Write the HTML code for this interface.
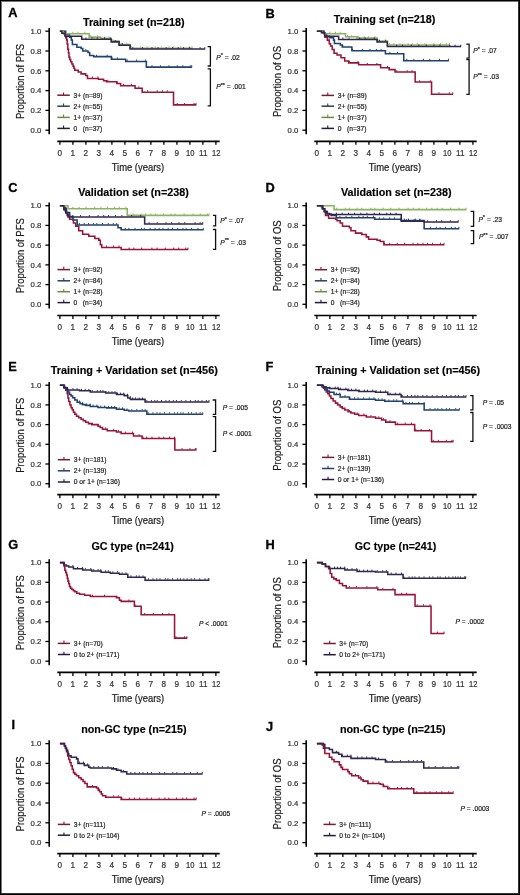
<!DOCTYPE html>
<html><head><meta charset="utf-8"><style>
html,body{margin:0;padding:0;background:#fff;}
body{width:520px;height:895px;overflow:hidden;position:relative;}
svg{display:block;font-family:"Liberation Sans", sans-serif;}
svg.main{filter:blur(0.3px);}
svg.bd{position:absolute;left:0;top:0;}
</style></head><body>
<svg class="main" width="520" height="895" viewBox="0 0 520 895">
<rect x="0" y="0" width="520" height="895" fill="#fff"/>
<text x="8.3" y="17.2" font-size="12.8" font-weight="bold" fill="#000" stroke="#000" stroke-width="0.3">A</text>
<text x="82.90" y="25.75" font-size="10.80" text-anchor="start" font-weight="bold" font-style="normal" fill="#000" textLength="101.6" lengthAdjust="spacingAndGlyphs" stroke="#000" stroke-width="0.15">Training set (n=218)</text>
<text transform="translate(23.60 81.50) rotate(-90)" x="0" y="0" font-size="10.3" text-anchor="middle" fill="#1a1a1a" stroke="#1a1a1a" stroke-width="0.2" textLength="75.0" lengthAdjust="spacingAndGlyphs">Proportion of PFS</text>
<line x1="49.20" y1="27.90" x2="49.20" y2="134.30" stroke="#000" stroke-width="1.6"/>
<line x1="45.40" y1="130.20" x2="49.20" y2="130.20" stroke="#000" stroke-width="1.3"/>
<text x="41.40" y="132.90" font-size="7.80" text-anchor="end" font-weight="normal" font-style="normal" fill="#333" textLength="10.8" lengthAdjust="spacingAndGlyphs" stroke="#333" stroke-width="0.2">0.0</text>
<line x1="45.40" y1="110.40" x2="49.20" y2="110.40" stroke="#000" stroke-width="1.3"/>
<text x="41.40" y="113.10" font-size="7.80" text-anchor="end" font-weight="normal" font-style="normal" fill="#333" textLength="10.8" lengthAdjust="spacingAndGlyphs" stroke="#333" stroke-width="0.2">0.2</text>
<line x1="45.40" y1="90.60" x2="49.20" y2="90.60" stroke="#000" stroke-width="1.3"/>
<text x="41.40" y="93.30" font-size="7.80" text-anchor="end" font-weight="normal" font-style="normal" fill="#333" textLength="10.8" lengthAdjust="spacingAndGlyphs" stroke="#333" stroke-width="0.2">0.4</text>
<line x1="45.40" y1="70.80" x2="49.20" y2="70.80" stroke="#000" stroke-width="1.3"/>
<text x="41.40" y="73.50" font-size="7.80" text-anchor="end" font-weight="normal" font-style="normal" fill="#333" textLength="10.8" lengthAdjust="spacingAndGlyphs" stroke="#333" stroke-width="0.2">0.6</text>
<line x1="45.40" y1="51.00" x2="49.20" y2="51.00" stroke="#000" stroke-width="1.3"/>
<text x="41.40" y="53.70" font-size="7.80" text-anchor="end" font-weight="normal" font-style="normal" fill="#333" textLength="10.8" lengthAdjust="spacingAndGlyphs" stroke="#333" stroke-width="0.2">0.8</text>
<line x1="45.40" y1="31.20" x2="49.20" y2="31.20" stroke="#000" stroke-width="1.3"/>
<text x="41.40" y="33.90" font-size="7.80" text-anchor="end" font-weight="normal" font-style="normal" fill="#333" textLength="10.8" lengthAdjust="spacingAndGlyphs" stroke="#333" stroke-width="0.2">1.0</text>
<line x1="57.30" y1="141.30" x2="219.70" y2="141.30" stroke="#000" stroke-width="1.7"/>
<line x1="59.90" y1="141.50" x2="59.90" y2="144.80" stroke="#000" stroke-width="1.3"/>
<text x="59.90" y="155.50" font-size="8.20" text-anchor="middle" font-weight="normal" font-style="normal" fill="#333" stroke="#333" stroke-width="0.2">0</text>
<line x1="72.90" y1="141.50" x2="72.90" y2="144.80" stroke="#000" stroke-width="1.3"/>
<text x="72.90" y="155.50" font-size="8.20" text-anchor="middle" font-weight="normal" font-style="normal" fill="#333" stroke="#333" stroke-width="0.2">1</text>
<line x1="85.90" y1="141.50" x2="85.90" y2="144.80" stroke="#000" stroke-width="1.3"/>
<text x="85.90" y="155.50" font-size="8.20" text-anchor="middle" font-weight="normal" font-style="normal" fill="#333" stroke="#333" stroke-width="0.2">2</text>
<line x1="98.90" y1="141.50" x2="98.90" y2="144.80" stroke="#000" stroke-width="1.3"/>
<text x="98.90" y="155.50" font-size="8.20" text-anchor="middle" font-weight="normal" font-style="normal" fill="#333" stroke="#333" stroke-width="0.2">3</text>
<line x1="111.90" y1="141.50" x2="111.90" y2="144.80" stroke="#000" stroke-width="1.3"/>
<text x="111.90" y="155.50" font-size="8.20" text-anchor="middle" font-weight="normal" font-style="normal" fill="#333" stroke="#333" stroke-width="0.2">4</text>
<line x1="124.90" y1="141.50" x2="124.90" y2="144.80" stroke="#000" stroke-width="1.3"/>
<text x="124.90" y="155.50" font-size="8.20" text-anchor="middle" font-weight="normal" font-style="normal" fill="#333" stroke="#333" stroke-width="0.2">5</text>
<line x1="137.90" y1="141.50" x2="137.90" y2="144.80" stroke="#000" stroke-width="1.3"/>
<text x="137.90" y="155.50" font-size="8.20" text-anchor="middle" font-weight="normal" font-style="normal" fill="#333" stroke="#333" stroke-width="0.2">6</text>
<line x1="150.90" y1="141.50" x2="150.90" y2="144.80" stroke="#000" stroke-width="1.3"/>
<text x="150.90" y="155.50" font-size="8.20" text-anchor="middle" font-weight="normal" font-style="normal" fill="#333" stroke="#333" stroke-width="0.2">7</text>
<line x1="163.90" y1="141.50" x2="163.90" y2="144.80" stroke="#000" stroke-width="1.3"/>
<text x="163.90" y="155.50" font-size="8.20" text-anchor="middle" font-weight="normal" font-style="normal" fill="#333" stroke="#333" stroke-width="0.2">8</text>
<line x1="176.90" y1="141.50" x2="176.90" y2="144.80" stroke="#000" stroke-width="1.3"/>
<text x="176.90" y="155.50" font-size="8.20" text-anchor="middle" font-weight="normal" font-style="normal" fill="#333" stroke="#333" stroke-width="0.2">9</text>
<line x1="189.90" y1="141.50" x2="189.90" y2="144.80" stroke="#000" stroke-width="1.3"/>
<text x="190.20" y="155.50" font-size="8.20" text-anchor="middle" font-weight="normal" font-style="normal" fill="#333" textLength="8.4" lengthAdjust="spacingAndGlyphs" stroke="#333" stroke-width="0.2">10</text>
<line x1="202.90" y1="141.50" x2="202.90" y2="144.80" stroke="#000" stroke-width="1.3"/>
<text x="203.20" y="155.50" font-size="8.20" text-anchor="middle" font-weight="normal" font-style="normal" fill="#333" textLength="8.4" lengthAdjust="spacingAndGlyphs" stroke="#333" stroke-width="0.2">11</text>
<line x1="215.90" y1="141.50" x2="215.90" y2="144.80" stroke="#000" stroke-width="1.3"/>
<text x="216.20" y="155.50" font-size="8.20" text-anchor="middle" font-weight="normal" font-style="normal" fill="#333" textLength="8.4" lengthAdjust="spacingAndGlyphs" stroke="#333" stroke-width="0.2">12</text>
<text x="137.90" y="170.50" font-size="10.30" text-anchor="middle" font-weight="normal" font-style="normal" fill="#1a1a1a" textLength="52.5" lengthAdjust="spacingAndGlyphs" stroke="#1a1a1a" stroke-width="0.2">Time (years)</text>
<line x1="57.30" y1="95.20" x2="69.80" y2="95.20" stroke="#7a1a36" stroke-width="1.5"/>
<line x1="63.55" y1="92.40" x2="63.55" y2="95.20" stroke="#7a1a36" stroke-width="1.1"/>
<text x="73.50" y="97.60" font-size="6.7" fill="#222" stroke="#222" stroke-width="0.2" xml:space="preserve">3+ (n=89)</text>
<line x1="57.30" y1="106.20" x2="69.80" y2="106.20" stroke="#2a4060" stroke-width="1.5"/>
<line x1="63.55" y1="103.40" x2="63.55" y2="106.20" stroke="#2a4060" stroke-width="1.1"/>
<text x="73.50" y="108.60" font-size="6.7" fill="#222" stroke="#222" stroke-width="0.2" xml:space="preserve">2+ (n=55)</text>
<line x1="57.30" y1="117.40" x2="69.80" y2="117.40" stroke="#6a8a44" stroke-width="1.5"/>
<line x1="63.55" y1="114.60" x2="63.55" y2="117.40" stroke="#6a8a44" stroke-width="1.1"/>
<text x="73.50" y="119.80" font-size="6.7" fill="#222" stroke="#222" stroke-width="0.2" xml:space="preserve">1+ (n=37)</text>
<line x1="57.30" y1="128.40" x2="69.80" y2="128.40" stroke="#251c3c" stroke-width="1.5"/>
<line x1="63.55" y1="125.60" x2="63.55" y2="128.40" stroke="#251c3c" stroke-width="1.1"/>
<text x="73.50" y="130.80" font-size="6.7" fill="#222" stroke="#222" stroke-width="0.2" xml:space="preserve">0   (n=37)</text>
<path d="M207.60 46.70 H210.40 V66.00 H207.60" fill="none" stroke="#111" stroke-width="1.3"/>
<path d="M207.60 68.80 H210.40 V105.80 H207.60" fill="none" stroke="#111" stroke-width="1.3"/>
<text x="216.20" y="59.60" font-size="6.7" fill="#1a1a1a" stroke="#1a1a1a" stroke-width="0.2" xml:space="preserve"><tspan font-style="italic">P</tspan><tspan font-size="5.6" dy="-2.4">*</tspan><tspan dy="2.4"> = .02</tspan></text>
<text x="216.20" y="89.00" font-size="6.7" fill="#1a1a1a" stroke="#1a1a1a" stroke-width="0.2" xml:space="preserve"><tspan font-style="italic">P</tspan><tspan font-size="5.6" dy="-2.4">**</tspan><tspan dy="2.4"> = .001</tspan></text>
<path d="M59.90 31.20 H63.80 V33.68 H64.84 V35.26 H65.75 V37.63 H66.66 V39.91 H67.18 V44.07 H67.83 V49.12 H68.48 V52.98 H69.00 V57.14 H69.78 V59.42 H70.69 V61.79 H71.86 V64.07 H73.03 V66.34 H73.94 V68.32 H74.72 V70.31 H78.23 V71.99 H81.09 V73.87 H85.64 V75.55 H87.46 V78.42 H98.38 V79.22 H103.58 V80.70 H106.44 V81.69 H116.71 V83.47 H120.61 V85.65 H135.04 V88.22 H142.19 V92.18 H173.52 V104.86 H196.40" fill="none" stroke="#9a1439" stroke-width="1.55" stroke-linejoin="miter"/>
<path d="M92.40 77.92 v-1.4 M97.92 77.92 v-1.4 M107.89 81.19 v-1.4 M117.33 82.97 v-1.4 M123.60 85.15 v-1.4 M131.38 85.15 v-1.4 M138.86 87.72 v-1.4 M147.61 91.68 v-1.4 M157.21 91.68 v-1.4 M162.47 91.68 v-1.4 M167.33 91.68 v-1.4 M177.23 104.36 v-1.4 M184.61 104.36 v-1.4 M194.04 104.36 v-1.4 M196.01 104.36 v-1.4" fill="none" stroke="#9a1439" stroke-width="1"/>
<path d="M59.90 31.20 H65.75 V34.67 H69.52 V37.14 H71.34 V39.91 H72.38 V44.56 H76.93 V47.34 H81.09 V48.53 H82.78 V51.00 H87.98 V52.48 H89.67 V55.45 H93.70 V56.64 H111.38 V59.32 H125.68 V61.40 H146.35 V67.14 H192.11" fill="none" stroke="#1f426f" stroke-width="1.55" stroke-linejoin="miter"/>
<path d="M85.90 50.50 v-1.4 M96.55 56.14 v-1.4 M107.14 56.14 v-1.4 M112.17 58.82 v-1.4 M117.38 58.82 v-1.4 M127.28 60.90 v-1.4 M136.55 60.90 v-1.4 M145.41 60.90 v-1.4 M152.01 66.64 v-1.4 M160.47 66.64 v-1.4 M168.94 66.64 v-1.4 M177.24 66.64 v-1.4 M182.91 66.64 v-1.4 M190.28 66.64 v-1.4 M191.72 66.64 v-1.4" fill="none" stroke="#1f426f" stroke-width="1"/>
<path d="M59.90 31.20 H63.15 V33.68 H89.15 V37.14 H100.72 V38.33 H111.25 V41.10 H119.05 V44.56 H130.10 V48.23 H192.50" fill="none" stroke="#8ab460" stroke-width="1.55" stroke-linejoin="miter"/>
<path d="M72.90 33.18 v-1.4 M78.04 33.18 v-1.4 M84.77 33.18 v-1.4 M90.59 36.64 v-1.4 M97.63 36.64 v-1.4 M104.79 37.83 v-1.4 M109.03 37.83 v-1.4 M112.99 40.60 v-1.4 M121.25 44.06 v-1.4 M126.50 44.06 v-1.4 M131.62 47.73 v-1.4 M140.69 47.73 v-1.4 M147.04 47.73 v-1.4 M155.29 47.73 v-1.4 M161.67 47.73 v-1.4 M168.89 47.73 v-1.4 M173.57 47.73 v-1.4 M180.77 47.73 v-1.4 M189.19 47.73 v-1.4 M192.11 47.73 v-1.4" fill="none" stroke="#8ab460" stroke-width="1"/>
<path d="M59.90 31.20 H61.85 V33.18 H65.10 V36.15 H81.74 V39.32 H111.25 V41.89 H119.05 V45.16 H130.10 V49.02 H205.24" fill="none" stroke="#302650" stroke-width="1.55" stroke-linejoin="miter"/>
<path d="M85.90 38.82 v-1.4 M92.05 38.82 v-1.4 M97.38 38.82 v-1.4 M104.53 38.82 v-1.4 M110.18 38.82 v-1.4 M115.27 41.39 v-1.4 M122.46 44.66 v-1.4 M132.86 48.52 v-1.4 M142.54 48.52 v-1.4 M151.99 48.52 v-1.4 M158.06 48.52 v-1.4 M166.09 48.52 v-1.4 M172.49 48.52 v-1.4 M178.25 48.52 v-1.4 M183.59 48.52 v-1.4 M189.61 48.52 v-1.4 M200.08 48.52 v-1.4 M204.85 48.52 v-1.4" fill="none" stroke="#302650" stroke-width="1"/>
<text x="265.4" y="18.0" font-size="12.8" font-weight="bold" fill="#000" stroke="#000" stroke-width="0.3">B</text>
<text x="333.80" y="22.75" font-size="10.80" text-anchor="start" font-weight="bold" font-style="normal" fill="#000" textLength="101.6" lengthAdjust="spacingAndGlyphs" stroke="#000" stroke-width="0.15">Training set (n=218)</text>
<text transform="translate(280.60 81.50) rotate(-90)" x="0" y="0" font-size="10.3" text-anchor="middle" fill="#1a1a1a" stroke="#1a1a1a" stroke-width="0.2" textLength="71.0" lengthAdjust="spacingAndGlyphs">Proportion of OS</text>
<line x1="306.20" y1="27.90" x2="306.20" y2="134.30" stroke="#000" stroke-width="1.6"/>
<line x1="302.40" y1="130.20" x2="306.20" y2="130.20" stroke="#000" stroke-width="1.3"/>
<text x="298.40" y="132.90" font-size="7.80" text-anchor="end" font-weight="normal" font-style="normal" fill="#333" textLength="10.8" lengthAdjust="spacingAndGlyphs" stroke="#333" stroke-width="0.2">0.0</text>
<line x1="302.40" y1="110.40" x2="306.20" y2="110.40" stroke="#000" stroke-width="1.3"/>
<text x="298.40" y="113.10" font-size="7.80" text-anchor="end" font-weight="normal" font-style="normal" fill="#333" textLength="10.8" lengthAdjust="spacingAndGlyphs" stroke="#333" stroke-width="0.2">0.2</text>
<line x1="302.40" y1="90.60" x2="306.20" y2="90.60" stroke="#000" stroke-width="1.3"/>
<text x="298.40" y="93.30" font-size="7.80" text-anchor="end" font-weight="normal" font-style="normal" fill="#333" textLength="10.8" lengthAdjust="spacingAndGlyphs" stroke="#333" stroke-width="0.2">0.4</text>
<line x1="302.40" y1="70.80" x2="306.20" y2="70.80" stroke="#000" stroke-width="1.3"/>
<text x="298.40" y="73.50" font-size="7.80" text-anchor="end" font-weight="normal" font-style="normal" fill="#333" textLength="10.8" lengthAdjust="spacingAndGlyphs" stroke="#333" stroke-width="0.2">0.6</text>
<line x1="302.40" y1="51.00" x2="306.20" y2="51.00" stroke="#000" stroke-width="1.3"/>
<text x="298.40" y="53.70" font-size="7.80" text-anchor="end" font-weight="normal" font-style="normal" fill="#333" textLength="10.8" lengthAdjust="spacingAndGlyphs" stroke="#333" stroke-width="0.2">0.8</text>
<line x1="302.40" y1="31.20" x2="306.20" y2="31.20" stroke="#000" stroke-width="1.3"/>
<text x="298.40" y="33.90" font-size="7.80" text-anchor="end" font-weight="normal" font-style="normal" fill="#333" textLength="10.8" lengthAdjust="spacingAndGlyphs" stroke="#333" stroke-width="0.2">1.0</text>
<line x1="314.30" y1="141.30" x2="476.70" y2="141.30" stroke="#000" stroke-width="1.7"/>
<line x1="316.90" y1="141.50" x2="316.90" y2="144.80" stroke="#000" stroke-width="1.3"/>
<text x="316.90" y="155.50" font-size="8.20" text-anchor="middle" font-weight="normal" font-style="normal" fill="#333" stroke="#333" stroke-width="0.2">0</text>
<line x1="329.90" y1="141.50" x2="329.90" y2="144.80" stroke="#000" stroke-width="1.3"/>
<text x="329.90" y="155.50" font-size="8.20" text-anchor="middle" font-weight="normal" font-style="normal" fill="#333" stroke="#333" stroke-width="0.2">1</text>
<line x1="342.90" y1="141.50" x2="342.90" y2="144.80" stroke="#000" stroke-width="1.3"/>
<text x="342.90" y="155.50" font-size="8.20" text-anchor="middle" font-weight="normal" font-style="normal" fill="#333" stroke="#333" stroke-width="0.2">2</text>
<line x1="355.90" y1="141.50" x2="355.90" y2="144.80" stroke="#000" stroke-width="1.3"/>
<text x="355.90" y="155.50" font-size="8.20" text-anchor="middle" font-weight="normal" font-style="normal" fill="#333" stroke="#333" stroke-width="0.2">3</text>
<line x1="368.90" y1="141.50" x2="368.90" y2="144.80" stroke="#000" stroke-width="1.3"/>
<text x="368.90" y="155.50" font-size="8.20" text-anchor="middle" font-weight="normal" font-style="normal" fill="#333" stroke="#333" stroke-width="0.2">4</text>
<line x1="381.90" y1="141.50" x2="381.90" y2="144.80" stroke="#000" stroke-width="1.3"/>
<text x="381.90" y="155.50" font-size="8.20" text-anchor="middle" font-weight="normal" font-style="normal" fill="#333" stroke="#333" stroke-width="0.2">5</text>
<line x1="394.90" y1="141.50" x2="394.90" y2="144.80" stroke="#000" stroke-width="1.3"/>
<text x="394.90" y="155.50" font-size="8.20" text-anchor="middle" font-weight="normal" font-style="normal" fill="#333" stroke="#333" stroke-width="0.2">6</text>
<line x1="407.90" y1="141.50" x2="407.90" y2="144.80" stroke="#000" stroke-width="1.3"/>
<text x="407.90" y="155.50" font-size="8.20" text-anchor="middle" font-weight="normal" font-style="normal" fill="#333" stroke="#333" stroke-width="0.2">7</text>
<line x1="420.90" y1="141.50" x2="420.90" y2="144.80" stroke="#000" stroke-width="1.3"/>
<text x="420.90" y="155.50" font-size="8.20" text-anchor="middle" font-weight="normal" font-style="normal" fill="#333" stroke="#333" stroke-width="0.2">8</text>
<line x1="433.90" y1="141.50" x2="433.90" y2="144.80" stroke="#000" stroke-width="1.3"/>
<text x="433.90" y="155.50" font-size="8.20" text-anchor="middle" font-weight="normal" font-style="normal" fill="#333" stroke="#333" stroke-width="0.2">9</text>
<line x1="446.90" y1="141.50" x2="446.90" y2="144.80" stroke="#000" stroke-width="1.3"/>
<text x="447.20" y="155.50" font-size="8.20" text-anchor="middle" font-weight="normal" font-style="normal" fill="#333" textLength="8.4" lengthAdjust="spacingAndGlyphs" stroke="#333" stroke-width="0.2">10</text>
<line x1="459.90" y1="141.50" x2="459.90" y2="144.80" stroke="#000" stroke-width="1.3"/>
<text x="460.20" y="155.50" font-size="8.20" text-anchor="middle" font-weight="normal" font-style="normal" fill="#333" textLength="8.4" lengthAdjust="spacingAndGlyphs" stroke="#333" stroke-width="0.2">11</text>
<line x1="472.90" y1="141.50" x2="472.90" y2="144.80" stroke="#000" stroke-width="1.3"/>
<text x="473.20" y="155.50" font-size="8.20" text-anchor="middle" font-weight="normal" font-style="normal" fill="#333" textLength="8.4" lengthAdjust="spacingAndGlyphs" stroke="#333" stroke-width="0.2">12</text>
<text x="394.90" y="170.50" font-size="10.30" text-anchor="middle" font-weight="normal" font-style="normal" fill="#1a1a1a" textLength="52.5" lengthAdjust="spacingAndGlyphs" stroke="#1a1a1a" stroke-width="0.2">Time (years)</text>
<line x1="321.50" y1="95.40" x2="334.00" y2="95.40" stroke="#7a1a36" stroke-width="1.5"/>
<line x1="327.75" y1="92.60" x2="327.75" y2="95.40" stroke="#7a1a36" stroke-width="1.1"/>
<text x="337.70" y="97.80" font-size="6.7" fill="#222" stroke="#222" stroke-width="0.2" xml:space="preserve">3+ (n=89)</text>
<line x1="321.50" y1="106.20" x2="334.00" y2="106.20" stroke="#2a4060" stroke-width="1.5"/>
<line x1="327.75" y1="103.40" x2="327.75" y2="106.20" stroke="#2a4060" stroke-width="1.1"/>
<text x="337.70" y="108.60" font-size="6.7" fill="#222" stroke="#222" stroke-width="0.2" xml:space="preserve">2+ (n=55)</text>
<line x1="321.50" y1="117.40" x2="334.00" y2="117.40" stroke="#6a8a44" stroke-width="1.5"/>
<line x1="327.75" y1="114.60" x2="327.75" y2="117.40" stroke="#6a8a44" stroke-width="1.1"/>
<text x="337.70" y="119.80" font-size="6.7" fill="#222" stroke="#222" stroke-width="0.2" xml:space="preserve">1+ (n=37)</text>
<line x1="321.50" y1="128.40" x2="334.00" y2="128.40" stroke="#251c3c" stroke-width="1.5"/>
<line x1="327.75" y1="125.60" x2="327.75" y2="128.40" stroke="#251c3c" stroke-width="1.1"/>
<text x="337.70" y="130.80" font-size="6.7" fill="#222" stroke="#222" stroke-width="0.2" xml:space="preserve">0   (n=37)</text>
<path d="M466.30 44.20 H469.10 V58.10 H466.30" fill="none" stroke="#111" stroke-width="1.3"/>
<path d="M466.30 59.60 H469.10 V94.40 H466.30" fill="none" stroke="#111" stroke-width="1.3"/>
<text x="473.20" y="53.20" font-size="6.7" fill="#1a1a1a" stroke="#1a1a1a" stroke-width="0.2" xml:space="preserve"><tspan font-style="italic">P</tspan><tspan font-size="5.6" dy="-2.4">*</tspan><tspan dy="2.4"> = .07</tspan></text>
<text x="473.20" y="79.20" font-size="6.7" fill="#1a1a1a" stroke="#1a1a1a" stroke-width="0.2" xml:space="preserve"><tspan font-style="italic">P</tspan><tspan font-size="5.6" dy="-2.4">**</tspan><tspan dy="2.4"> = .03</tspan></text>
<path d="M316.90 31.20 H323.40 V33.18 H324.96 V37.14 H327.30 V40.11 H329.25 V43.67 H330.55 V46.05 H332.24 V49.42 H334.06 V53.18 H337.05 V54.96 H340.95 V57.83 H344.72 V60.90 H348.62 V62.88 H358.63 V64.76 H380.60 V67.73 H389.18 V69.61 H395.03 V72.09 H415.18 V82.09 H431.56 V94.16 H453.14" fill="none" stroke="#9a1439" stroke-width="1.55" stroke-linejoin="miter"/>
<path d="M349.40 62.38 v-1.4 M357.97 62.38 v-1.4 M367.28 64.26 v-1.4 M376.92 64.26 v-1.4 M387.48 67.23 v-1.4 M396.78 71.59 v-1.4 M407.21 71.59 v-1.4 M412.07 71.59 v-1.4 M419.66 81.59 v-1.4 M430.22 81.59 v-1.4 M438.95 93.66 v-1.4 M449.26 93.66 v-1.4 M452.75 93.66 v-1.4" fill="none" stroke="#9a1439" stroke-width="1"/>
<path d="M316.90 31.20 H324.05 V33.68 H326.65 V36.15 H329.25 V37.63 H333.54 V40.11 H334.45 V43.48 H340.30 V44.96 H342.25 V46.94 H351.87 V50.80 H385.41 V53.77 H403.74 V60.70 H448.85" fill="none" stroke="#1f426f" stroke-width="1.55" stroke-linejoin="miter"/>
<path d="M342.90 46.44 v-1.4 M352.53 50.30 v-1.4 M362.34 50.30 v-1.4 M370.05 50.30 v-1.4 M376.36 50.30 v-1.4 M381.04 50.30 v-1.4 M389.86 53.27 v-1.4 M397.47 53.27 v-1.4 M406.89 60.20 v-1.4 M413.90 60.20 v-1.4 M423.39 60.20 v-1.4 M429.77 60.20 v-1.4 M439.45 60.20 v-1.4 M448.46 60.20 v-1.4" fill="none" stroke="#1f426f" stroke-width="1"/>
<path d="M316.90 31.20 H322.10 V32.69 H324.70 V33.68 H345.50 V36.84 H357.07 V38.13 H377.09 V41.10 H387.36 V45.06 H449.76" fill="none" stroke="#8ab460" stroke-width="1.55" stroke-linejoin="miter"/>
<path d="M329.90 33.18 v-1.4 M335.48 33.18 v-1.4 M340.17 33.18 v-1.4 M347.45 36.34 v-1.4 M351.73 36.34 v-1.4 M358.42 37.63 v-1.4 M364.22 37.63 v-1.4 M368.42 37.63 v-1.4 M374.96 37.63 v-1.4 M379.05 40.60 v-1.4 M385.21 40.60 v-1.4 M389.47 44.56 v-1.4 M393.84 44.56 v-1.4 M399.95 44.56 v-1.4 M408.15 44.56 v-1.4 M412.69 44.56 v-1.4 M417.75 44.56 v-1.4 M424.92 44.56 v-1.4 M433.75 44.56 v-1.4 M440.65 44.56 v-1.4 M446.61 44.56 v-1.4 M449.37 44.56 v-1.4" fill="none" stroke="#8ab460" stroke-width="1"/>
<path d="M316.90 31.20 H321.45 V32.69 H324.70 V36.15 H338.61 V39.42 H377.09 V41.99 H387.36 V46.55 H461.20" fill="none" stroke="#302650" stroke-width="1.55" stroke-linejoin="miter"/>
<path d="M342.90 38.92 v-1.4 M348.99 38.92 v-1.4 M359.68 38.92 v-1.4 M365.15 38.92 v-1.4 M374.23 38.92 v-1.4 M379.44 41.49 v-1.4 M385.66 41.49 v-1.4 M396.58 46.05 v-1.4 M402.56 46.05 v-1.4 M411.25 46.05 v-1.4 M418.79 46.05 v-1.4 M426.30 46.05 v-1.4 M434.07 46.05 v-1.4 M439.95 46.05 v-1.4 M449.81 46.05 v-1.4 M455.05 46.05 v-1.4 M460.81 46.05 v-1.4" fill="none" stroke="#302650" stroke-width="1"/>
<text x="8.3" y="191.7" font-size="12.8" font-weight="bold" fill="#000" stroke="#000" stroke-width="0.3">C</text>
<text x="78.20" y="196.45" font-size="10.80" text-anchor="start" font-weight="bold" font-style="normal" fill="#000" textLength="110.6" lengthAdjust="spacingAndGlyphs" stroke="#000" stroke-width="0.15">Validation set (n=238)</text>
<text transform="translate(23.60 255.80) rotate(-90)" x="0" y="0" font-size="10.3" text-anchor="middle" fill="#1a1a1a" stroke="#1a1a1a" stroke-width="0.2" textLength="75.0" lengthAdjust="spacingAndGlyphs">Proportion of PFS</text>
<line x1="49.20" y1="202.40" x2="49.20" y2="308.40" stroke="#000" stroke-width="1.6"/>
<line x1="45.40" y1="304.30" x2="49.20" y2="304.30" stroke="#000" stroke-width="1.3"/>
<text x="41.40" y="307.00" font-size="7.80" text-anchor="end" font-weight="normal" font-style="normal" fill="#333" textLength="10.8" lengthAdjust="spacingAndGlyphs" stroke="#333" stroke-width="0.2">0.0</text>
<line x1="45.40" y1="284.58" x2="49.20" y2="284.58" stroke="#000" stroke-width="1.3"/>
<text x="41.40" y="287.28" font-size="7.80" text-anchor="end" font-weight="normal" font-style="normal" fill="#333" textLength="10.8" lengthAdjust="spacingAndGlyphs" stroke="#333" stroke-width="0.2">0.2</text>
<line x1="45.40" y1="264.86" x2="49.20" y2="264.86" stroke="#000" stroke-width="1.3"/>
<text x="41.40" y="267.56" font-size="7.80" text-anchor="end" font-weight="normal" font-style="normal" fill="#333" textLength="10.8" lengthAdjust="spacingAndGlyphs" stroke="#333" stroke-width="0.2">0.4</text>
<line x1="45.40" y1="245.14" x2="49.20" y2="245.14" stroke="#000" stroke-width="1.3"/>
<text x="41.40" y="247.84" font-size="7.80" text-anchor="end" font-weight="normal" font-style="normal" fill="#333" textLength="10.8" lengthAdjust="spacingAndGlyphs" stroke="#333" stroke-width="0.2">0.6</text>
<line x1="45.40" y1="225.42" x2="49.20" y2="225.42" stroke="#000" stroke-width="1.3"/>
<text x="41.40" y="228.12" font-size="7.80" text-anchor="end" font-weight="normal" font-style="normal" fill="#333" textLength="10.8" lengthAdjust="spacingAndGlyphs" stroke="#333" stroke-width="0.2">0.8</text>
<line x1="45.40" y1="205.70" x2="49.20" y2="205.70" stroke="#000" stroke-width="1.3"/>
<text x="41.40" y="208.40" font-size="7.80" text-anchor="end" font-weight="normal" font-style="normal" fill="#333" textLength="10.8" lengthAdjust="spacingAndGlyphs" stroke="#333" stroke-width="0.2">1.0</text>
<line x1="57.30" y1="315.50" x2="219.70" y2="315.50" stroke="#000" stroke-width="1.7"/>
<line x1="59.90" y1="315.70" x2="59.90" y2="319.00" stroke="#000" stroke-width="1.3"/>
<text x="59.90" y="329.70" font-size="8.20" text-anchor="middle" font-weight="normal" font-style="normal" fill="#333" stroke="#333" stroke-width="0.2">0</text>
<line x1="72.90" y1="315.70" x2="72.90" y2="319.00" stroke="#000" stroke-width="1.3"/>
<text x="72.90" y="329.70" font-size="8.20" text-anchor="middle" font-weight="normal" font-style="normal" fill="#333" stroke="#333" stroke-width="0.2">1</text>
<line x1="85.90" y1="315.70" x2="85.90" y2="319.00" stroke="#000" stroke-width="1.3"/>
<text x="85.90" y="329.70" font-size="8.20" text-anchor="middle" font-weight="normal" font-style="normal" fill="#333" stroke="#333" stroke-width="0.2">2</text>
<line x1="98.90" y1="315.70" x2="98.90" y2="319.00" stroke="#000" stroke-width="1.3"/>
<text x="98.90" y="329.70" font-size="8.20" text-anchor="middle" font-weight="normal" font-style="normal" fill="#333" stroke="#333" stroke-width="0.2">3</text>
<line x1="111.90" y1="315.70" x2="111.90" y2="319.00" stroke="#000" stroke-width="1.3"/>
<text x="111.90" y="329.70" font-size="8.20" text-anchor="middle" font-weight="normal" font-style="normal" fill="#333" stroke="#333" stroke-width="0.2">4</text>
<line x1="124.90" y1="315.70" x2="124.90" y2="319.00" stroke="#000" stroke-width="1.3"/>
<text x="124.90" y="329.70" font-size="8.20" text-anchor="middle" font-weight="normal" font-style="normal" fill="#333" stroke="#333" stroke-width="0.2">5</text>
<line x1="137.90" y1="315.70" x2="137.90" y2="319.00" stroke="#000" stroke-width="1.3"/>
<text x="137.90" y="329.70" font-size="8.20" text-anchor="middle" font-weight="normal" font-style="normal" fill="#333" stroke="#333" stroke-width="0.2">6</text>
<line x1="150.90" y1="315.70" x2="150.90" y2="319.00" stroke="#000" stroke-width="1.3"/>
<text x="150.90" y="329.70" font-size="8.20" text-anchor="middle" font-weight="normal" font-style="normal" fill="#333" stroke="#333" stroke-width="0.2">7</text>
<line x1="163.90" y1="315.70" x2="163.90" y2="319.00" stroke="#000" stroke-width="1.3"/>
<text x="163.90" y="329.70" font-size="8.20" text-anchor="middle" font-weight="normal" font-style="normal" fill="#333" stroke="#333" stroke-width="0.2">8</text>
<line x1="176.90" y1="315.70" x2="176.90" y2="319.00" stroke="#000" stroke-width="1.3"/>
<text x="176.90" y="329.70" font-size="8.20" text-anchor="middle" font-weight="normal" font-style="normal" fill="#333" stroke="#333" stroke-width="0.2">9</text>
<line x1="189.90" y1="315.70" x2="189.90" y2="319.00" stroke="#000" stroke-width="1.3"/>
<text x="190.20" y="329.70" font-size="8.20" text-anchor="middle" font-weight="normal" font-style="normal" fill="#333" textLength="8.4" lengthAdjust="spacingAndGlyphs" stroke="#333" stroke-width="0.2">10</text>
<line x1="202.90" y1="315.70" x2="202.90" y2="319.00" stroke="#000" stroke-width="1.3"/>
<text x="203.20" y="329.70" font-size="8.20" text-anchor="middle" font-weight="normal" font-style="normal" fill="#333" textLength="8.4" lengthAdjust="spacingAndGlyphs" stroke="#333" stroke-width="0.2">11</text>
<line x1="215.90" y1="315.70" x2="215.90" y2="319.00" stroke="#000" stroke-width="1.3"/>
<text x="216.20" y="329.70" font-size="8.20" text-anchor="middle" font-weight="normal" font-style="normal" fill="#333" textLength="8.4" lengthAdjust="spacingAndGlyphs" stroke="#333" stroke-width="0.2">12</text>
<text x="137.90" y="344.70" font-size="10.30" text-anchor="middle" font-weight="normal" font-style="normal" fill="#1a1a1a" textLength="52.5" lengthAdjust="spacingAndGlyphs" stroke="#1a1a1a" stroke-width="0.2">Time (years)</text>
<line x1="57.50" y1="269.60" x2="70.00" y2="269.60" stroke="#7a1a36" stroke-width="1.5"/>
<line x1="63.75" y1="266.80" x2="63.75" y2="269.60" stroke="#7a1a36" stroke-width="1.1"/>
<text x="73.50" y="272.00" font-size="6.7" fill="#222" stroke="#222" stroke-width="0.2" xml:space="preserve">3+ (n=92)</text>
<line x1="57.50" y1="280.80" x2="70.00" y2="280.80" stroke="#2a4060" stroke-width="1.5"/>
<line x1="63.75" y1="278.00" x2="63.75" y2="280.80" stroke="#2a4060" stroke-width="1.1"/>
<text x="73.50" y="283.20" font-size="6.7" fill="#222" stroke="#222" stroke-width="0.2" xml:space="preserve">2+ (n=84)</text>
<line x1="57.50" y1="291.70" x2="70.00" y2="291.70" stroke="#6a8a44" stroke-width="1.5"/>
<line x1="63.75" y1="288.90" x2="63.75" y2="291.70" stroke="#6a8a44" stroke-width="1.1"/>
<text x="73.50" y="294.10" font-size="6.7" fill="#222" stroke="#222" stroke-width="0.2" xml:space="preserve">1+ (n=28)</text>
<line x1="57.50" y1="302.60" x2="70.00" y2="302.60" stroke="#251c3c" stroke-width="1.5"/>
<line x1="63.75" y1="299.80" x2="63.75" y2="302.60" stroke="#251c3c" stroke-width="1.1"/>
<text x="73.50" y="305.00" font-size="6.7" fill="#222" stroke="#222" stroke-width="0.2" xml:space="preserve">0   (n=34)</text>
<path d="M212.90 215.40 H215.60 V225.80 H212.90" fill="none" stroke="#111" stroke-width="1.3"/>
<path d="M212.90 229.50 H215.60 V249.40 H212.90" fill="none" stroke="#111" stroke-width="1.3"/>
<text x="220.20" y="222.90" font-size="6.7" fill="#1a1a1a" stroke="#1a1a1a" stroke-width="0.2" xml:space="preserve"><tspan font-style="italic">P</tspan><tspan font-size="5.6" dy="-2.4">*</tspan><tspan dy="2.4"> = .07</tspan></text>
<text x="220.20" y="244.50" font-size="6.7" fill="#1a1a1a" stroke="#1a1a1a" stroke-width="0.2" xml:space="preserve"><tspan font-style="italic">P</tspan><tspan font-size="5.6" dy="-2.4">**</tspan><tspan dy="2.4"> = .03</tspan></text>
<path d="M59.90 205.70 H63.80 V207.18 H65.10 V210.63 H66.40 V213.59 H67.18 V215.36 H69.52 V219.21 H73.42 V223.05 H75.76 V226.21 H78.75 V230.84 H82.65 V234.20 H88.76 V236.27 H94.87 V238.53 H98.77 V240.31 H100.33 V244.65 H101.76 V247.41 H121.13 V249.48 H188.34" fill="none" stroke="#9a1439" stroke-width="1.55" stroke-linejoin="miter"/>
<path d="M98.90 239.81 v-1.4 M106.47 246.91 v-1.4 M113.48 246.91 v-1.4 M119.02 246.91 v-1.4 M129.11 248.98 v-1.4 M133.83 248.98 v-1.4 M141.65 248.98 v-1.4 M151.93 248.98 v-1.4 M157.12 248.98 v-1.4 M165.26 248.98 v-1.4 M173.78 248.98 v-1.4 M178.72 248.98 v-1.4 M185.76 248.98 v-1.4 M187.95 248.98 v-1.4" fill="none" stroke="#9a1439" stroke-width="1"/>
<path d="M59.90 205.70 H63.80 V208.16 H66.40 V212.60 H69.65 V216.55 H72.90 V220.00 H77.19 V224.93 H118.01 V227.69 H121.13 V229.76 H203.68" fill="none" stroke="#1f426f" stroke-width="1.55" stroke-linejoin="miter"/>
<path d="M79.40 224.43 v-1.4 M84.21 224.43 v-1.4 M88.50 224.43 v-1.4 M93.34 224.43 v-1.4 M96.82 224.43 v-1.4 M102.51 224.43 v-1.4 M108.23 224.43 v-1.4 M113.34 224.43 v-1.4 M116.66 224.43 v-1.4 M121.28 229.26 v-1.4 M125.20 229.26 v-1.4 M128.84 229.26 v-1.4 M135.04 229.26 v-1.4 M141.40 229.26 v-1.4 M144.29 229.26 v-1.4 M150.15 229.26 v-1.4 M155.08 229.26 v-1.4 M159.20 229.26 v-1.4 M162.96 229.26 v-1.4 M168.15 229.26 v-1.4 M172.54 229.26 v-1.4 M177.77 229.26 v-1.4 M182.91 229.26 v-1.4 M186.12 229.26 v-1.4 M191.64 229.26 v-1.4 M197.95 229.26 v-1.4 M203.29 229.26 v-1.4" fill="none" stroke="#1f426f" stroke-width="1"/>
<path d="M59.90 205.70 H67.96 V208.66 H127.24 V215.36 H209.40" fill="none" stroke="#8ab460" stroke-width="1.55" stroke-linejoin="miter"/>
<path d="M72.90 208.16 v-1.4 M79.15 208.16 v-1.4 M85.96 208.16 v-1.4 M94.67 208.16 v-1.4 M100.99 208.16 v-1.4 M107.53 208.16 v-1.4 M114.49 208.16 v-1.4 M119.35 208.16 v-1.4 M125.91 208.16 v-1.4 M133.08 214.86 v-1.4 M141.11 214.86 v-1.4 M145.50 214.86 v-1.4 M150.97 214.86 v-1.4 M155.35 214.86 v-1.4 M163.46 214.86 v-1.4 M170.96 214.86 v-1.4 M175.08 214.86 v-1.4 M184.09 214.86 v-1.4 M193.00 214.86 v-1.4 M200.30 214.86 v-1.4 M207.40 214.86 v-1.4 M209.01 214.86 v-1.4" fill="none" stroke="#8ab460" stroke-width="1"/>
<path d="M59.90 205.70 H63.80 V209.64 H65.75 V212.60 H67.96 V216.94 H144.66 V224.04 H203.16" fill="none" stroke="#302650" stroke-width="1.55" stroke-linejoin="miter"/>
<path d="M72.90 216.44 v-1.4 M80.54 216.44 v-1.4 M89.32 216.44 v-1.4 M98.16 216.44 v-1.4 M103.73 216.44 v-1.4 M108.48 216.44 v-1.4 M115.50 216.44 v-1.4 M121.89 216.44 v-1.4 M131.63 216.44 v-1.4 M140.61 216.44 v-1.4 M149.05 223.54 v-1.4 M157.21 223.54 v-1.4 M166.02 223.54 v-1.4 M171.60 223.54 v-1.4 M179.03 223.54 v-1.4 M184.72 223.54 v-1.4 M195.06 223.54 v-1.4 M200.10 223.54 v-1.4 M202.77 223.54 v-1.4" fill="none" stroke="#302650" stroke-width="1"/>
<text x="265.4" y="191.7" font-size="12.8" font-weight="bold" fill="#000" stroke="#000" stroke-width="0.3">D</text>
<text x="340.90" y="196.45" font-size="10.80" text-anchor="start" font-weight="bold" font-style="normal" fill="#000" textLength="110.6" lengthAdjust="spacingAndGlyphs" stroke="#000" stroke-width="0.15">Validation set (n=238)</text>
<text transform="translate(280.60 255.80) rotate(-90)" x="0" y="0" font-size="10.3" text-anchor="middle" fill="#1a1a1a" stroke="#1a1a1a" stroke-width="0.2" textLength="71.0" lengthAdjust="spacingAndGlyphs">Proportion of OS</text>
<line x1="306.20" y1="202.40" x2="306.20" y2="308.40" stroke="#000" stroke-width="1.6"/>
<line x1="302.40" y1="304.30" x2="306.20" y2="304.30" stroke="#000" stroke-width="1.3"/>
<text x="298.40" y="307.00" font-size="7.80" text-anchor="end" font-weight="normal" font-style="normal" fill="#333" textLength="10.8" lengthAdjust="spacingAndGlyphs" stroke="#333" stroke-width="0.2">0.0</text>
<line x1="302.40" y1="284.58" x2="306.20" y2="284.58" stroke="#000" stroke-width="1.3"/>
<text x="298.40" y="287.28" font-size="7.80" text-anchor="end" font-weight="normal" font-style="normal" fill="#333" textLength="10.8" lengthAdjust="spacingAndGlyphs" stroke="#333" stroke-width="0.2">0.2</text>
<line x1="302.40" y1="264.86" x2="306.20" y2="264.86" stroke="#000" stroke-width="1.3"/>
<text x="298.40" y="267.56" font-size="7.80" text-anchor="end" font-weight="normal" font-style="normal" fill="#333" textLength="10.8" lengthAdjust="spacingAndGlyphs" stroke="#333" stroke-width="0.2">0.4</text>
<line x1="302.40" y1="245.14" x2="306.20" y2="245.14" stroke="#000" stroke-width="1.3"/>
<text x="298.40" y="247.84" font-size="7.80" text-anchor="end" font-weight="normal" font-style="normal" fill="#333" textLength="10.8" lengthAdjust="spacingAndGlyphs" stroke="#333" stroke-width="0.2">0.6</text>
<line x1="302.40" y1="225.42" x2="306.20" y2="225.42" stroke="#000" stroke-width="1.3"/>
<text x="298.40" y="228.12" font-size="7.80" text-anchor="end" font-weight="normal" font-style="normal" fill="#333" textLength="10.8" lengthAdjust="spacingAndGlyphs" stroke="#333" stroke-width="0.2">0.8</text>
<line x1="302.40" y1="205.70" x2="306.20" y2="205.70" stroke="#000" stroke-width="1.3"/>
<text x="298.40" y="208.40" font-size="7.80" text-anchor="end" font-weight="normal" font-style="normal" fill="#333" textLength="10.8" lengthAdjust="spacingAndGlyphs" stroke="#333" stroke-width="0.2">1.0</text>
<line x1="314.30" y1="315.50" x2="476.70" y2="315.50" stroke="#000" stroke-width="1.7"/>
<line x1="316.90" y1="315.70" x2="316.90" y2="319.00" stroke="#000" stroke-width="1.3"/>
<text x="316.90" y="329.70" font-size="8.20" text-anchor="middle" font-weight="normal" font-style="normal" fill="#333" stroke="#333" stroke-width="0.2">0</text>
<line x1="329.90" y1="315.70" x2="329.90" y2="319.00" stroke="#000" stroke-width="1.3"/>
<text x="329.90" y="329.70" font-size="8.20" text-anchor="middle" font-weight="normal" font-style="normal" fill="#333" stroke="#333" stroke-width="0.2">1</text>
<line x1="342.90" y1="315.70" x2="342.90" y2="319.00" stroke="#000" stroke-width="1.3"/>
<text x="342.90" y="329.70" font-size="8.20" text-anchor="middle" font-weight="normal" font-style="normal" fill="#333" stroke="#333" stroke-width="0.2">2</text>
<line x1="355.90" y1="315.70" x2="355.90" y2="319.00" stroke="#000" stroke-width="1.3"/>
<text x="355.90" y="329.70" font-size="8.20" text-anchor="middle" font-weight="normal" font-style="normal" fill="#333" stroke="#333" stroke-width="0.2">3</text>
<line x1="368.90" y1="315.70" x2="368.90" y2="319.00" stroke="#000" stroke-width="1.3"/>
<text x="368.90" y="329.70" font-size="8.20" text-anchor="middle" font-weight="normal" font-style="normal" fill="#333" stroke="#333" stroke-width="0.2">4</text>
<line x1="381.90" y1="315.70" x2="381.90" y2="319.00" stroke="#000" stroke-width="1.3"/>
<text x="381.90" y="329.70" font-size="8.20" text-anchor="middle" font-weight="normal" font-style="normal" fill="#333" stroke="#333" stroke-width="0.2">5</text>
<line x1="394.90" y1="315.70" x2="394.90" y2="319.00" stroke="#000" stroke-width="1.3"/>
<text x="394.90" y="329.70" font-size="8.20" text-anchor="middle" font-weight="normal" font-style="normal" fill="#333" stroke="#333" stroke-width="0.2">6</text>
<line x1="407.90" y1="315.70" x2="407.90" y2="319.00" stroke="#000" stroke-width="1.3"/>
<text x="407.90" y="329.70" font-size="8.20" text-anchor="middle" font-weight="normal" font-style="normal" fill="#333" stroke="#333" stroke-width="0.2">7</text>
<line x1="420.90" y1="315.70" x2="420.90" y2="319.00" stroke="#000" stroke-width="1.3"/>
<text x="420.90" y="329.70" font-size="8.20" text-anchor="middle" font-weight="normal" font-style="normal" fill="#333" stroke="#333" stroke-width="0.2">8</text>
<line x1="433.90" y1="315.70" x2="433.90" y2="319.00" stroke="#000" stroke-width="1.3"/>
<text x="433.90" y="329.70" font-size="8.20" text-anchor="middle" font-weight="normal" font-style="normal" fill="#333" stroke="#333" stroke-width="0.2">9</text>
<line x1="446.90" y1="315.70" x2="446.90" y2="319.00" stroke="#000" stroke-width="1.3"/>
<text x="447.20" y="329.70" font-size="8.20" text-anchor="middle" font-weight="normal" font-style="normal" fill="#333" textLength="8.4" lengthAdjust="spacingAndGlyphs" stroke="#333" stroke-width="0.2">10</text>
<line x1="459.90" y1="315.70" x2="459.90" y2="319.00" stroke="#000" stroke-width="1.3"/>
<text x="460.20" y="329.70" font-size="8.20" text-anchor="middle" font-weight="normal" font-style="normal" fill="#333" textLength="8.4" lengthAdjust="spacingAndGlyphs" stroke="#333" stroke-width="0.2">11</text>
<line x1="472.90" y1="315.70" x2="472.90" y2="319.00" stroke="#000" stroke-width="1.3"/>
<text x="473.20" y="329.70" font-size="8.20" text-anchor="middle" font-weight="normal" font-style="normal" fill="#333" textLength="8.4" lengthAdjust="spacingAndGlyphs" stroke="#333" stroke-width="0.2">12</text>
<text x="394.90" y="344.70" font-size="10.30" text-anchor="middle" font-weight="normal" font-style="normal" fill="#1a1a1a" textLength="52.5" lengthAdjust="spacingAndGlyphs" stroke="#1a1a1a" stroke-width="0.2">Time (years)</text>
<line x1="314.80" y1="269.70" x2="327.10" y2="269.70" stroke="#7a1a36" stroke-width="1.5"/>
<line x1="320.95" y1="266.90" x2="320.95" y2="269.70" stroke="#7a1a36" stroke-width="1.1"/>
<text x="330.80" y="272.10" font-size="6.7" fill="#222" stroke="#222" stroke-width="0.2" xml:space="preserve">3+ (n=92)</text>
<line x1="314.80" y1="280.80" x2="327.10" y2="280.80" stroke="#2a4060" stroke-width="1.5"/>
<line x1="320.95" y1="278.00" x2="320.95" y2="280.80" stroke="#2a4060" stroke-width="1.1"/>
<text x="330.80" y="283.20" font-size="6.7" fill="#222" stroke="#222" stroke-width="0.2" xml:space="preserve">2+ (n=84)</text>
<line x1="314.80" y1="291.70" x2="327.10" y2="291.70" stroke="#6a8a44" stroke-width="1.5"/>
<line x1="320.95" y1="288.90" x2="320.95" y2="291.70" stroke="#6a8a44" stroke-width="1.1"/>
<text x="330.80" y="294.10" font-size="6.7" fill="#222" stroke="#222" stroke-width="0.2" xml:space="preserve">1+ (n=28)</text>
<line x1="314.80" y1="302.60" x2="327.10" y2="302.60" stroke="#251c3c" stroke-width="1.5"/>
<line x1="320.95" y1="299.80" x2="320.95" y2="302.60" stroke="#251c3c" stroke-width="1.1"/>
<text x="330.80" y="305.00" font-size="6.7" fill="#222" stroke="#222" stroke-width="0.2" xml:space="preserve">0   (n=34)</text>
<path d="M470.60 211.30 H473.60 V226.30 H470.60" fill="none" stroke="#111" stroke-width="1.3"/>
<path d="M470.60 230.60 H473.60 V243.70 H470.60" fill="none" stroke="#111" stroke-width="1.3"/>
<text x="478.40" y="221.50" font-size="6.7" fill="#1a1a1a" stroke="#1a1a1a" stroke-width="0.2" xml:space="preserve"><tspan font-style="italic">P</tspan><tspan font-size="5.6" dy="-2.4">*</tspan><tspan dy="2.4"> = .23</tspan></text>
<text x="478.90" y="239.40" font-size="6.7" fill="#1a1a1a" stroke="#1a1a1a" stroke-width="0.2" xml:space="preserve"><tspan font-style="italic">P</tspan><tspan font-size="5.6" dy="-2.4">**</tspan><tspan dy="2.4"> = .007</tspan></text>
<path d="M316.90 205.70 H321.45 V206.69 H322.75 V208.66 H324.05 V211.52 H325.48 V215.36 H328.60 V218.22 H335.49 V219.21 H337.05 V220.79 H340.17 V223.05 H342.51 V226.21 H349.40 V227.69 H350.96 V230.84 H355.51 V233.11 H361.75 V234.59 H366.30 V236.86 H368.64 V239.22 H377.09 V240.31 H380.21 V241.49 H383.85 V244.65 H444.43" fill="none" stroke="#9a1439" stroke-width="1.55" stroke-linejoin="miter"/>
<path d="M384.50 244.15 v-1.4 M389.75 244.15 v-1.4 M397.21 244.15 v-1.4 M404.67 244.15 v-1.4 M412.98 244.15 v-1.4 M417.85 244.15 v-1.4 M422.95 244.15 v-1.4 M427.61 244.15 v-1.4 M432.68 244.15 v-1.4 M440.40 244.15 v-1.4 M444.04 244.15 v-1.4" fill="none" stroke="#9a1439" stroke-width="1"/>
<path d="M316.90 205.70 H322.10 V208.66 H324.70 V211.62 H327.30 V214.08 H331.20 V215.56 H336.40 V217.73 H374.75 V219.21 H401.27 V220.49 H424.15 V228.77 H459.25" fill="none" stroke="#1f426f" stroke-width="1.55" stroke-linejoin="miter"/>
<path d="M336.40 217.23 v-1.4 M339.96 217.23 v-1.4 M346.01 217.23 v-1.4 M351.84 217.23 v-1.4 M358.87 217.23 v-1.4 M363.12 217.23 v-1.4 M367.30 217.23 v-1.4 M373.48 217.23 v-1.4 M379.34 218.71 v-1.4 M383.72 218.71 v-1.4 M389.68 218.71 v-1.4 M394.45 218.71 v-1.4 M400.81 218.71 v-1.4 M404.42 219.99 v-1.4 M408.47 219.99 v-1.4 M415.34 219.99 v-1.4 M419.95 219.99 v-1.4 M424.15 228.27 v-1.4 M430.62 228.27 v-1.4 M436.37 228.27 v-1.4 M440.11 228.27 v-1.4 M445.52 228.27 v-1.4 M451.40 228.27 v-1.4 M455.21 228.27 v-1.4 M458.86 228.27 v-1.4" fill="none" stroke="#1f426f" stroke-width="1"/>
<path d="M316.90 205.70 H334.06 V209.64 H466.40" fill="none" stroke="#8ab460" stroke-width="1.55" stroke-linejoin="miter"/>
<path d="M336.40 209.14 v-1.4 M345.32 209.14 v-1.4 M349.28 209.14 v-1.4 M357.01 209.14 v-1.4 M361.73 209.14 v-1.4 M370.76 209.14 v-1.4 M374.75 209.14 v-1.4 M383.22 209.14 v-1.4 M390.66 209.14 v-1.4 M399.02 209.14 v-1.4 M408.12 209.14 v-1.4 M413.27 209.14 v-1.4 M418.92 209.14 v-1.4 M426.51 209.14 v-1.4 M431.87 209.14 v-1.4 M437.13 209.14 v-1.4 M442.22 209.14 v-1.4 M450.58 209.14 v-1.4 M459.03 209.14 v-1.4 M466.01 209.14 v-1.4" fill="none" stroke="#8ab460" stroke-width="1"/>
<path d="M316.90 205.70 H322.75 V208.66 H324.70 V211.62 H326.65 V213.59 H329.25 V214.57 H401.27 V221.18 H424.15 V222.07 H458.60" fill="none" stroke="#302650" stroke-width="1.55" stroke-linejoin="miter"/>
<path d="M336.40 214.07 v-1.4 M342.18 214.07 v-1.4 M348.58 214.07 v-1.4 M354.65 214.07 v-1.4 M360.87 214.07 v-1.4 M366.90 214.07 v-1.4 M374.22 214.07 v-1.4 M379.47 214.07 v-1.4 M386.67 214.07 v-1.4 M390.62 214.07 v-1.4 M396.09 214.07 v-1.4 M401.73 220.68 v-1.4 M406.37 220.68 v-1.4 M414.14 220.68 v-1.4 M419.65 220.68 v-1.4 M427.65 221.57 v-1.4 M436.53 221.57 v-1.4 M441.74 221.57 v-1.4 M450.29 221.57 v-1.4 M458.21 221.57 v-1.4" fill="none" stroke="#302650" stroke-width="1"/>
<text x="8.3" y="371.3" font-size="12.8" font-weight="bold" fill="#000" stroke="#000" stroke-width="0.3">E</text>
<text x="50.80" y="373.75" font-size="10.80" text-anchor="start" font-weight="bold" font-style="normal" fill="#000" textLength="167.0" lengthAdjust="spacingAndGlyphs" stroke="#000" stroke-width="0.15">Training + Varidation set (n=456)</text>
<text transform="translate(23.60 435.25) rotate(-90)" x="0" y="0" font-size="10.3" text-anchor="middle" fill="#1a1a1a" stroke="#1a1a1a" stroke-width="0.2" textLength="75.0" lengthAdjust="spacingAndGlyphs">Proportion of PFS</text>
<line x1="49.20" y1="381.90" x2="49.20" y2="487.80" stroke="#000" stroke-width="1.6"/>
<line x1="45.40" y1="483.70" x2="49.20" y2="483.70" stroke="#000" stroke-width="1.3"/>
<text x="41.40" y="486.40" font-size="7.80" text-anchor="end" font-weight="normal" font-style="normal" fill="#333" textLength="10.8" lengthAdjust="spacingAndGlyphs" stroke="#333" stroke-width="0.2">0.0</text>
<line x1="45.40" y1="464.00" x2="49.20" y2="464.00" stroke="#000" stroke-width="1.3"/>
<text x="41.40" y="466.70" font-size="7.80" text-anchor="end" font-weight="normal" font-style="normal" fill="#333" textLength="10.8" lengthAdjust="spacingAndGlyphs" stroke="#333" stroke-width="0.2">0.2</text>
<line x1="45.40" y1="444.30" x2="49.20" y2="444.30" stroke="#000" stroke-width="1.3"/>
<text x="41.40" y="447.00" font-size="7.80" text-anchor="end" font-weight="normal" font-style="normal" fill="#333" textLength="10.8" lengthAdjust="spacingAndGlyphs" stroke="#333" stroke-width="0.2">0.4</text>
<line x1="45.40" y1="424.60" x2="49.20" y2="424.60" stroke="#000" stroke-width="1.3"/>
<text x="41.40" y="427.30" font-size="7.80" text-anchor="end" font-weight="normal" font-style="normal" fill="#333" textLength="10.8" lengthAdjust="spacingAndGlyphs" stroke="#333" stroke-width="0.2">0.6</text>
<line x1="45.40" y1="404.90" x2="49.20" y2="404.90" stroke="#000" stroke-width="1.3"/>
<text x="41.40" y="407.60" font-size="7.80" text-anchor="end" font-weight="normal" font-style="normal" fill="#333" textLength="10.8" lengthAdjust="spacingAndGlyphs" stroke="#333" stroke-width="0.2">0.8</text>
<line x1="45.40" y1="385.20" x2="49.20" y2="385.20" stroke="#000" stroke-width="1.3"/>
<text x="41.40" y="387.90" font-size="7.80" text-anchor="end" font-weight="normal" font-style="normal" fill="#333" textLength="10.8" lengthAdjust="spacingAndGlyphs" stroke="#333" stroke-width="0.2">1.0</text>
<line x1="57.30" y1="494.70" x2="219.70" y2="494.70" stroke="#000" stroke-width="1.7"/>
<line x1="59.90" y1="494.90" x2="59.90" y2="498.20" stroke="#000" stroke-width="1.3"/>
<text x="59.90" y="508.90" font-size="8.20" text-anchor="middle" font-weight="normal" font-style="normal" fill="#333" stroke="#333" stroke-width="0.2">0</text>
<line x1="72.90" y1="494.90" x2="72.90" y2="498.20" stroke="#000" stroke-width="1.3"/>
<text x="72.90" y="508.90" font-size="8.20" text-anchor="middle" font-weight="normal" font-style="normal" fill="#333" stroke="#333" stroke-width="0.2">1</text>
<line x1="85.90" y1="494.90" x2="85.90" y2="498.20" stroke="#000" stroke-width="1.3"/>
<text x="85.90" y="508.90" font-size="8.20" text-anchor="middle" font-weight="normal" font-style="normal" fill="#333" stroke="#333" stroke-width="0.2">2</text>
<line x1="98.90" y1="494.90" x2="98.90" y2="498.20" stroke="#000" stroke-width="1.3"/>
<text x="98.90" y="508.90" font-size="8.20" text-anchor="middle" font-weight="normal" font-style="normal" fill="#333" stroke="#333" stroke-width="0.2">3</text>
<line x1="111.90" y1="494.90" x2="111.90" y2="498.20" stroke="#000" stroke-width="1.3"/>
<text x="111.90" y="508.90" font-size="8.20" text-anchor="middle" font-weight="normal" font-style="normal" fill="#333" stroke="#333" stroke-width="0.2">4</text>
<line x1="124.90" y1="494.90" x2="124.90" y2="498.20" stroke="#000" stroke-width="1.3"/>
<text x="124.90" y="508.90" font-size="8.20" text-anchor="middle" font-weight="normal" font-style="normal" fill="#333" stroke="#333" stroke-width="0.2">5</text>
<line x1="137.90" y1="494.90" x2="137.90" y2="498.20" stroke="#000" stroke-width="1.3"/>
<text x="137.90" y="508.90" font-size="8.20" text-anchor="middle" font-weight="normal" font-style="normal" fill="#333" stroke="#333" stroke-width="0.2">6</text>
<line x1="150.90" y1="494.90" x2="150.90" y2="498.20" stroke="#000" stroke-width="1.3"/>
<text x="150.90" y="508.90" font-size="8.20" text-anchor="middle" font-weight="normal" font-style="normal" fill="#333" stroke="#333" stroke-width="0.2">7</text>
<line x1="163.90" y1="494.90" x2="163.90" y2="498.20" stroke="#000" stroke-width="1.3"/>
<text x="163.90" y="508.90" font-size="8.20" text-anchor="middle" font-weight="normal" font-style="normal" fill="#333" stroke="#333" stroke-width="0.2">8</text>
<line x1="176.90" y1="494.90" x2="176.90" y2="498.20" stroke="#000" stroke-width="1.3"/>
<text x="176.90" y="508.90" font-size="8.20" text-anchor="middle" font-weight="normal" font-style="normal" fill="#333" stroke="#333" stroke-width="0.2">9</text>
<line x1="189.90" y1="494.90" x2="189.90" y2="498.20" stroke="#000" stroke-width="1.3"/>
<text x="190.20" y="508.90" font-size="8.20" text-anchor="middle" font-weight="normal" font-style="normal" fill="#333" textLength="8.4" lengthAdjust="spacingAndGlyphs" stroke="#333" stroke-width="0.2">10</text>
<line x1="202.90" y1="494.90" x2="202.90" y2="498.20" stroke="#000" stroke-width="1.3"/>
<text x="203.20" y="508.90" font-size="8.20" text-anchor="middle" font-weight="normal" font-style="normal" fill="#333" textLength="8.4" lengthAdjust="spacingAndGlyphs" stroke="#333" stroke-width="0.2">11</text>
<line x1="215.90" y1="494.90" x2="215.90" y2="498.20" stroke="#000" stroke-width="1.3"/>
<text x="216.20" y="508.90" font-size="8.20" text-anchor="middle" font-weight="normal" font-style="normal" fill="#333" textLength="8.4" lengthAdjust="spacingAndGlyphs" stroke="#333" stroke-width="0.2">12</text>
<text x="137.90" y="523.90" font-size="10.30" text-anchor="middle" font-weight="normal" font-style="normal" fill="#1a1a1a" textLength="52.5" lengthAdjust="spacingAndGlyphs" stroke="#1a1a1a" stroke-width="0.2">Time (years)</text>
<line x1="57.80" y1="459.70" x2="70.10" y2="459.70" stroke="#7a1a36" stroke-width="1.5"/>
<line x1="63.95" y1="456.90" x2="63.95" y2="459.70" stroke="#7a1a36" stroke-width="1.1"/>
<text x="73.80" y="462.10" font-size="6.7" fill="#222" stroke="#222" stroke-width="0.2" xml:space="preserve">3+ (n=181)</text>
<line x1="57.80" y1="470.80" x2="70.10" y2="470.80" stroke="#2a4060" stroke-width="1.5"/>
<line x1="63.95" y1="468.00" x2="63.95" y2="470.80" stroke="#2a4060" stroke-width="1.1"/>
<text x="73.80" y="473.20" font-size="6.7" fill="#222" stroke="#222" stroke-width="0.2" xml:space="preserve">2+ (n=139)</text>
<line x1="57.80" y1="482.00" x2="70.10" y2="482.00" stroke="#251c3c" stroke-width="1.5"/>
<line x1="63.95" y1="479.20" x2="63.95" y2="482.00" stroke="#251c3c" stroke-width="1.1"/>
<text x="73.80" y="484.40" font-size="6.7" fill="#222" stroke="#222" stroke-width="0.2" xml:space="preserve">0 or 1+ (n=136)</text>
<path d="M212.70 400.00 H215.60 V414.40 H212.70" fill="none" stroke="#111" stroke-width="1.3"/>
<path d="M212.70 416.70 H215.60 V451.30 H212.70" fill="none" stroke="#111" stroke-width="1.3"/>
<text x="222.80" y="409.50" font-size="6.7" fill="#1a1a1a" stroke="#1a1a1a" stroke-width="0.2" xml:space="preserve"><tspan font-style="italic">P</tspan> = .005</text>
<text x="222.80" y="435.80" font-size="6.7" fill="#1a1a1a" stroke="#1a1a1a" stroke-width="0.2" xml:space="preserve"><tspan font-style="italic">P</tspan> &lt; .0001</text>
<path d="M59.90 385.20 H64.45 V388.15 H65.75 V390.12 H67.18 V393.77 H67.96 V398.00 H68.74 V401.55 H69.91 V404.90 H71.08 V407.66 H72.25 V409.82 H73.42 V412.29 H74.85 V414.26 H76.54 V416.23 H78.75 V417.70 H81.09 V419.18 H83.30 V420.66 H85.64 V422.33 H88.50 V423.62 H91.75 V424.60 H97.99 V426.18 H100.20 V427.56 H102.54 V429.23 H107.22 V430.81 H116.45 V431.99 H121.13 V433.46 H133.48 V436.03 H142.06 V438.49 H174.82 V450.01 H196.53" fill="none" stroke="#9a1439" stroke-width="1.55" stroke-linejoin="miter"/>
<path d="M92.40 424.10 v-1.4 M98.35 425.68 v-1.4 M105.64 428.73 v-1.4 M113.64 430.31 v-1.4 M118.51 431.49 v-1.4 M125.60 432.96 v-1.4 M132.41 432.96 v-1.4 M139.02 435.53 v-1.4 M143.04 437.99 v-1.4 M146.68 437.99 v-1.4 M151.98 437.99 v-1.4 M158.99 437.99 v-1.4 M163.68 437.99 v-1.4 M169.54 437.99 v-1.4 M174.53 437.99 v-1.4 M182.00 449.51 v-1.4 M189.94 449.51 v-1.4 M195.33 449.51 v-1.4 M196.14 449.51 v-1.4" fill="none" stroke="#9a1439" stroke-width="1"/>
<path d="M59.90 385.20 H63.80 V387.17 H65.75 V389.14 H67.70 V392.09 H69.52 V394.56 H71.08 V396.03 H72.64 V397.71 H74.85 V399.98 H77.19 V402.34 H80.05 V403.72 H82.65 V404.60 H85.90 V405.39 H90.32 V406.48 H97.99 V407.46 H106.70 V407.86 H116.45 V409.23 H124.25 V410.32 H128.80 V411.01 H146.87 V414.16 H203.16" fill="none" stroke="#1f426f" stroke-width="1.55" stroke-linejoin="miter"/>
<path d="M79.40 401.84 v-1.4 M82.31 403.22 v-1.4 M86.71 404.89 v-1.4 M90.09 404.89 v-1.4 M93.05 405.98 v-1.4 M96.92 405.98 v-1.4 M100.80 406.96 v-1.4 M104.64 406.96 v-1.4 M108.41 407.36 v-1.4 M111.57 407.36 v-1.4 M114.70 407.36 v-1.4 M119.20 408.73 v-1.4 M122.55 408.73 v-1.4 M127.00 409.82 v-1.4 M131.80 410.51 v-1.4 M136.84 410.51 v-1.4 M142.12 410.51 v-1.4 M145.19 410.51 v-1.4 M148.28 413.66 v-1.4 M152.91 413.66 v-1.4 M157.04 413.66 v-1.4 M160.01 413.66 v-1.4 M164.47 413.66 v-1.4 M169.53 413.66 v-1.4 M174.48 413.66 v-1.4 M177.49 413.66 v-1.4 M180.77 413.66 v-1.4 M183.13 413.66 v-1.4 M188.51 413.66 v-1.4 M191.54 413.66 v-1.4 M196.15 413.66 v-1.4 M200.17 413.66 v-1.4 M202.77 413.66 v-1.4" fill="none" stroke="#1f426f" stroke-width="1"/>
<path d="M59.90 385.20 H63.80 V387.66 H67.18 V390.03 H79.53 V390.72 H90.32 V391.90 H105.66 V393.08 H116.45 V394.56 H124.25 V395.64 H127.76 V398.00 H130.36 V399.38 H145.05 V401.94 H209.40" fill="none" stroke="#302650" stroke-width="1.55" stroke-linejoin="miter"/>
<path d="M72.90 389.53 v-1.4 M77.06 389.53 v-1.4 M81.53 390.22 v-1.4 M85.23 390.22 v-1.4 M88.90 390.22 v-1.4 M92.23 391.40 v-1.4 M97.32 391.40 v-1.4 M100.34 391.40 v-1.4 M102.96 391.40 v-1.4 M105.90 392.58 v-1.4 M108.84 392.58 v-1.4 M111.98 392.58 v-1.4 M114.95 392.58 v-1.4 M117.44 394.06 v-1.4 M120.57 394.06 v-1.4 M123.66 394.06 v-1.4 M127.51 395.14 v-1.4 M130.28 397.50 v-1.4 M132.67 398.88 v-1.4 M135.44 398.88 v-1.4 M139.21 398.88 v-1.4 M142.52 398.88 v-1.4 M146.84 401.44 v-1.4 M151.36 401.44 v-1.4 M154.75 401.44 v-1.4 M157.23 401.44 v-1.4 M161.53 401.44 v-1.4 M165.92 401.44 v-1.4 M169.25 401.44 v-1.4 M173.35 401.44 v-1.4 M176.41 401.44 v-1.4 M181.26 401.44 v-1.4 M185.87 401.44 v-1.4 M190.36 401.44 v-1.4 M195.32 401.44 v-1.4 M198.18 401.44 v-1.4 M201.95 401.44 v-1.4 M206.27 401.44 v-1.4 M209.01 401.44 v-1.4" fill="none" stroke="#302650" stroke-width="1"/>
<text x="265.4" y="370.9" font-size="12.8" font-weight="bold" fill="#000" stroke="#000" stroke-width="0.3">F</text>
<text x="315.40" y="373.75" font-size="10.80" text-anchor="start" font-weight="bold" font-style="normal" fill="#000" textLength="164.8" lengthAdjust="spacingAndGlyphs" stroke="#000" stroke-width="0.15">Training + Validation set (n=456)</text>
<text transform="translate(280.60 435.25) rotate(-90)" x="0" y="0" font-size="10.3" text-anchor="middle" fill="#1a1a1a" stroke="#1a1a1a" stroke-width="0.2" textLength="71.0" lengthAdjust="spacingAndGlyphs">Proportion of OS</text>
<line x1="306.20" y1="381.90" x2="306.20" y2="487.80" stroke="#000" stroke-width="1.6"/>
<line x1="302.40" y1="483.70" x2="306.20" y2="483.70" stroke="#000" stroke-width="1.3"/>
<text x="298.40" y="486.40" font-size="7.80" text-anchor="end" font-weight="normal" font-style="normal" fill="#333" textLength="10.8" lengthAdjust="spacingAndGlyphs" stroke="#333" stroke-width="0.2">0.0</text>
<line x1="302.40" y1="464.00" x2="306.20" y2="464.00" stroke="#000" stroke-width="1.3"/>
<text x="298.40" y="466.70" font-size="7.80" text-anchor="end" font-weight="normal" font-style="normal" fill="#333" textLength="10.8" lengthAdjust="spacingAndGlyphs" stroke="#333" stroke-width="0.2">0.2</text>
<line x1="302.40" y1="444.30" x2="306.20" y2="444.30" stroke="#000" stroke-width="1.3"/>
<text x="298.40" y="447.00" font-size="7.80" text-anchor="end" font-weight="normal" font-style="normal" fill="#333" textLength="10.8" lengthAdjust="spacingAndGlyphs" stroke="#333" stroke-width="0.2">0.4</text>
<line x1="302.40" y1="424.60" x2="306.20" y2="424.60" stroke="#000" stroke-width="1.3"/>
<text x="298.40" y="427.30" font-size="7.80" text-anchor="end" font-weight="normal" font-style="normal" fill="#333" textLength="10.8" lengthAdjust="spacingAndGlyphs" stroke="#333" stroke-width="0.2">0.6</text>
<line x1="302.40" y1="404.90" x2="306.20" y2="404.90" stroke="#000" stroke-width="1.3"/>
<text x="298.40" y="407.60" font-size="7.80" text-anchor="end" font-weight="normal" font-style="normal" fill="#333" textLength="10.8" lengthAdjust="spacingAndGlyphs" stroke="#333" stroke-width="0.2">0.8</text>
<line x1="302.40" y1="385.20" x2="306.20" y2="385.20" stroke="#000" stroke-width="1.3"/>
<text x="298.40" y="387.90" font-size="7.80" text-anchor="end" font-weight="normal" font-style="normal" fill="#333" textLength="10.8" lengthAdjust="spacingAndGlyphs" stroke="#333" stroke-width="0.2">1.0</text>
<line x1="314.30" y1="494.70" x2="476.70" y2="494.70" stroke="#000" stroke-width="1.7"/>
<line x1="316.90" y1="494.90" x2="316.90" y2="498.20" stroke="#000" stroke-width="1.3"/>
<text x="316.90" y="508.90" font-size="8.20" text-anchor="middle" font-weight="normal" font-style="normal" fill="#333" stroke="#333" stroke-width="0.2">0</text>
<line x1="329.90" y1="494.90" x2="329.90" y2="498.20" stroke="#000" stroke-width="1.3"/>
<text x="329.90" y="508.90" font-size="8.20" text-anchor="middle" font-weight="normal" font-style="normal" fill="#333" stroke="#333" stroke-width="0.2">1</text>
<line x1="342.90" y1="494.90" x2="342.90" y2="498.20" stroke="#000" stroke-width="1.3"/>
<text x="342.90" y="508.90" font-size="8.20" text-anchor="middle" font-weight="normal" font-style="normal" fill="#333" stroke="#333" stroke-width="0.2">2</text>
<line x1="355.90" y1="494.90" x2="355.90" y2="498.20" stroke="#000" stroke-width="1.3"/>
<text x="355.90" y="508.90" font-size="8.20" text-anchor="middle" font-weight="normal" font-style="normal" fill="#333" stroke="#333" stroke-width="0.2">3</text>
<line x1="368.90" y1="494.90" x2="368.90" y2="498.20" stroke="#000" stroke-width="1.3"/>
<text x="368.90" y="508.90" font-size="8.20" text-anchor="middle" font-weight="normal" font-style="normal" fill="#333" stroke="#333" stroke-width="0.2">4</text>
<line x1="381.90" y1="494.90" x2="381.90" y2="498.20" stroke="#000" stroke-width="1.3"/>
<text x="381.90" y="508.90" font-size="8.20" text-anchor="middle" font-weight="normal" font-style="normal" fill="#333" stroke="#333" stroke-width="0.2">5</text>
<line x1="394.90" y1="494.90" x2="394.90" y2="498.20" stroke="#000" stroke-width="1.3"/>
<text x="394.90" y="508.90" font-size="8.20" text-anchor="middle" font-weight="normal" font-style="normal" fill="#333" stroke="#333" stroke-width="0.2">6</text>
<line x1="407.90" y1="494.90" x2="407.90" y2="498.20" stroke="#000" stroke-width="1.3"/>
<text x="407.90" y="508.90" font-size="8.20" text-anchor="middle" font-weight="normal" font-style="normal" fill="#333" stroke="#333" stroke-width="0.2">7</text>
<line x1="420.90" y1="494.90" x2="420.90" y2="498.20" stroke="#000" stroke-width="1.3"/>
<text x="420.90" y="508.90" font-size="8.20" text-anchor="middle" font-weight="normal" font-style="normal" fill="#333" stroke="#333" stroke-width="0.2">8</text>
<line x1="433.90" y1="494.90" x2="433.90" y2="498.20" stroke="#000" stroke-width="1.3"/>
<text x="433.90" y="508.90" font-size="8.20" text-anchor="middle" font-weight="normal" font-style="normal" fill="#333" stroke="#333" stroke-width="0.2">9</text>
<line x1="446.90" y1="494.90" x2="446.90" y2="498.20" stroke="#000" stroke-width="1.3"/>
<text x="447.20" y="508.90" font-size="8.20" text-anchor="middle" font-weight="normal" font-style="normal" fill="#333" textLength="8.4" lengthAdjust="spacingAndGlyphs" stroke="#333" stroke-width="0.2">10</text>
<line x1="459.90" y1="494.90" x2="459.90" y2="498.20" stroke="#000" stroke-width="1.3"/>
<text x="460.20" y="508.90" font-size="8.20" text-anchor="middle" font-weight="normal" font-style="normal" fill="#333" textLength="8.4" lengthAdjust="spacingAndGlyphs" stroke="#333" stroke-width="0.2">11</text>
<line x1="472.90" y1="494.90" x2="472.90" y2="498.20" stroke="#000" stroke-width="1.3"/>
<text x="473.20" y="508.90" font-size="8.20" text-anchor="middle" font-weight="normal" font-style="normal" fill="#333" textLength="8.4" lengthAdjust="spacingAndGlyphs" stroke="#333" stroke-width="0.2">12</text>
<text x="394.90" y="523.90" font-size="10.30" text-anchor="middle" font-weight="normal" font-style="normal" fill="#1a1a1a" textLength="52.5" lengthAdjust="spacingAndGlyphs" stroke="#1a1a1a" stroke-width="0.2">Time (years)</text>
<line x1="321.90" y1="457.40" x2="334.20" y2="457.40" stroke="#7a1a36" stroke-width="1.5"/>
<line x1="328.05" y1="454.60" x2="328.05" y2="457.40" stroke="#7a1a36" stroke-width="1.1"/>
<text x="337.80" y="459.80" font-size="6.7" fill="#222" stroke="#222" stroke-width="0.2" xml:space="preserve">3+ (n=181)</text>
<line x1="321.90" y1="468.50" x2="334.20" y2="468.50" stroke="#2a4060" stroke-width="1.5"/>
<line x1="328.05" y1="465.70" x2="328.05" y2="468.50" stroke="#2a4060" stroke-width="1.1"/>
<text x="337.80" y="470.90" font-size="6.7" fill="#222" stroke="#222" stroke-width="0.2" xml:space="preserve">2+ (n=139)</text>
<line x1="321.90" y1="479.50" x2="334.20" y2="479.50" stroke="#251c3c" stroke-width="1.5"/>
<line x1="328.05" y1="476.70" x2="328.05" y2="479.50" stroke="#251c3c" stroke-width="1.1"/>
<text x="337.80" y="481.90" font-size="6.7" fill="#222" stroke="#222" stroke-width="0.2" xml:space="preserve">0 or 1+ (n=136)</text>
<path d="M470.20 395.60 H472.90 V409.80 H470.20" fill="none" stroke="#111" stroke-width="1.3"/>
<path d="M470.20 412.50 H472.90 V441.30 H470.20" fill="none" stroke="#111" stroke-width="1.3"/>
<text x="482.70" y="404.80" font-size="6.7" fill="#1a1a1a" stroke="#1a1a1a" stroke-width="0.2" xml:space="preserve"><tspan font-style="italic">P</tspan> = .05</text>
<text x="482.70" y="428.80" font-size="6.7" fill="#1a1a1a" stroke="#1a1a1a" stroke-width="0.2" xml:space="preserve"><tspan font-style="italic">P</tspan> = .0003</text>
<path d="M316.90 385.20 H322.10 V386.68 H323.40 V388.15 H324.83 V390.03 H326.26 V392.09 H327.82 V393.77 H329.38 V396.03 H330.94 V398.50 H333.15 V400.96 H335.49 V403.13 H337.70 V404.90 H340.17 V406.87 H342.25 V408.35 H344.85 V410.02 H348.10 V411.79 H350.96 V413.08 H354.60 V414.26 H358.63 V415.44 H366.30 V416.92 H375.53 V418.20 H381.64 V419.97 H385.80 V422.14 H395.42 V424.40 H414.66 V430.81 H431.56 V441.74 H453.53" fill="none" stroke="#9a1439" stroke-width="1.55" stroke-linejoin="miter"/>
<path d="M349.40 411.29 v-1.4 M357.15 413.76 v-1.4 M363.87 414.94 v-1.4 M370.97 416.42 v-1.4 M378.71 417.70 v-1.4 M383.44 419.47 v-1.4 M389.92 421.64 v-1.4 M397.67 423.90 v-1.4 M405.26 423.90 v-1.4 M411.45 423.90 v-1.4 M415.75 430.31 v-1.4 M421.19 430.31 v-1.4 M429.35 430.31 v-1.4 M433.34 441.24 v-1.4 M438.35 441.24 v-1.4 M446.30 441.24 v-1.4 M451.92 441.24 v-1.4 M453.14 441.24 v-1.4" fill="none" stroke="#9a1439" stroke-width="1"/>
<path d="M316.90 385.20 H322.10 V386.68 H324.70 V389.14 H327.30 V391.11 H329.38 V392.29 H334.06 V394.56 H340.17 V396.92 H349.40 V399.19 H375.53 V400.27 H384.76 V401.26 H403.09 V403.82 H424.15 V410.02 H459.77" fill="none" stroke="#1f426f" stroke-width="1.55" stroke-linejoin="miter"/>
<path d="M336.40 394.06 v-1.4 M339.73 394.06 v-1.4 M344.97 396.42 v-1.4 M350.01 398.69 v-1.4 M354.49 398.69 v-1.4 M358.00 398.69 v-1.4 M363.62 398.69 v-1.4 M369.29 398.69 v-1.4 M373.88 398.69 v-1.4 M378.45 399.77 v-1.4 M382.04 399.77 v-1.4 M384.78 400.76 v-1.4 M388.86 400.76 v-1.4 M393.72 400.76 v-1.4 M396.71 400.76 v-1.4 M402.33 400.76 v-1.4 M405.90 403.32 v-1.4 M409.48 403.32 v-1.4 M412.36 403.32 v-1.4 M418.72 403.32 v-1.4 M424.14 403.32 v-1.4 M430.06 409.52 v-1.4 M435.03 409.52 v-1.4 M437.88 409.52 v-1.4 M441.81 409.52 v-1.4 M446.35 409.52 v-1.4 M449.50 409.52 v-1.4 M455.70 409.52 v-1.4 M459.38 409.52 v-1.4" fill="none" stroke="#1f426f" stroke-width="1"/>
<path d="M316.90 385.20 H323.40 V386.68 H326.00 V387.66 H329.38 V388.45 H338.61 V389.53 H347.84 V390.52 H358.63 V391.50 H375.53 V392.29 H387.75 V394.56 H401.14 V396.92 H466.40" fill="none" stroke="#302650" stroke-width="1.55" stroke-linejoin="miter"/>
<path d="M329.90 387.95 v-1.4 M335.23 387.95 v-1.4 M338.01 387.95 v-1.4 M340.42 389.03 v-1.4 M345.88 389.03 v-1.4 M348.79 390.02 v-1.4 M351.51 390.02 v-1.4 M355.88 390.02 v-1.4 M359.30 391.00 v-1.4 M364.41 391.00 v-1.4 M367.48 391.00 v-1.4 M372.81 391.00 v-1.4 M376.15 391.79 v-1.4 M380.36 391.79 v-1.4 M385.61 391.79 v-1.4 M390.09 394.06 v-1.4 M395.31 394.06 v-1.4 M399.86 394.06 v-1.4 M402.35 396.42 v-1.4 M407.44 396.42 v-1.4 M411.62 396.42 v-1.4 M414.93 396.42 v-1.4 M417.86 396.42 v-1.4 M422.86 396.42 v-1.4 M427.01 396.42 v-1.4 M432.28 396.42 v-1.4 M437.04 396.42 v-1.4 M442.37 396.42 v-1.4 M446.48 396.42 v-1.4 M451.00 396.42 v-1.4 M455.25 396.42 v-1.4 M458.40 396.42 v-1.4 M463.72 396.42 v-1.4 M466.01 396.42 v-1.4" fill="none" stroke="#302650" stroke-width="1"/>
<text x="8.3" y="549.3" font-size="12.8" font-weight="bold" fill="#000" stroke="#000" stroke-width="0.3">G</text>
<text x="91.40" y="550.25" font-size="10.80" text-anchor="start" font-weight="bold" font-style="normal" fill="#000" textLength="82.4" lengthAdjust="spacingAndGlyphs" stroke="#000" stroke-width="0.15">GC type (n=241)</text>
<text transform="translate(23.60 612.70) rotate(-90)" x="0" y="0" font-size="10.3" text-anchor="middle" fill="#1a1a1a" stroke="#1a1a1a" stroke-width="0.2" textLength="75.0" lengthAdjust="spacingAndGlyphs">Proportion of PFS</text>
<line x1="49.20" y1="559.30" x2="49.20" y2="665.30" stroke="#000" stroke-width="1.6"/>
<line x1="45.40" y1="661.20" x2="49.20" y2="661.20" stroke="#000" stroke-width="1.3"/>
<text x="41.40" y="663.90" font-size="7.80" text-anchor="end" font-weight="normal" font-style="normal" fill="#333" textLength="10.8" lengthAdjust="spacingAndGlyphs" stroke="#333" stroke-width="0.2">0.0</text>
<line x1="45.40" y1="641.48" x2="49.20" y2="641.48" stroke="#000" stroke-width="1.3"/>
<text x="41.40" y="644.18" font-size="7.80" text-anchor="end" font-weight="normal" font-style="normal" fill="#333" textLength="10.8" lengthAdjust="spacingAndGlyphs" stroke="#333" stroke-width="0.2">0.2</text>
<line x1="45.40" y1="621.76" x2="49.20" y2="621.76" stroke="#000" stroke-width="1.3"/>
<text x="41.40" y="624.46" font-size="7.80" text-anchor="end" font-weight="normal" font-style="normal" fill="#333" textLength="10.8" lengthAdjust="spacingAndGlyphs" stroke="#333" stroke-width="0.2">0.4</text>
<line x1="45.40" y1="602.04" x2="49.20" y2="602.04" stroke="#000" stroke-width="1.3"/>
<text x="41.40" y="604.74" font-size="7.80" text-anchor="end" font-weight="normal" font-style="normal" fill="#333" textLength="10.8" lengthAdjust="spacingAndGlyphs" stroke="#333" stroke-width="0.2">0.6</text>
<line x1="45.40" y1="582.32" x2="49.20" y2="582.32" stroke="#000" stroke-width="1.3"/>
<text x="41.40" y="585.02" font-size="7.80" text-anchor="end" font-weight="normal" font-style="normal" fill="#333" textLength="10.8" lengthAdjust="spacingAndGlyphs" stroke="#333" stroke-width="0.2">0.8</text>
<line x1="45.40" y1="562.60" x2="49.20" y2="562.60" stroke="#000" stroke-width="1.3"/>
<text x="41.40" y="565.30" font-size="7.80" text-anchor="end" font-weight="normal" font-style="normal" fill="#333" textLength="10.8" lengthAdjust="spacingAndGlyphs" stroke="#333" stroke-width="0.2">1.0</text>
<line x1="57.30" y1="672.40" x2="219.70" y2="672.40" stroke="#000" stroke-width="1.7"/>
<line x1="59.90" y1="672.60" x2="59.90" y2="675.90" stroke="#000" stroke-width="1.3"/>
<text x="59.90" y="686.60" font-size="8.20" text-anchor="middle" font-weight="normal" font-style="normal" fill="#333" stroke="#333" stroke-width="0.2">0</text>
<line x1="72.90" y1="672.60" x2="72.90" y2="675.90" stroke="#000" stroke-width="1.3"/>
<text x="72.90" y="686.60" font-size="8.20" text-anchor="middle" font-weight="normal" font-style="normal" fill="#333" stroke="#333" stroke-width="0.2">1</text>
<line x1="85.90" y1="672.60" x2="85.90" y2="675.90" stroke="#000" stroke-width="1.3"/>
<text x="85.90" y="686.60" font-size="8.20" text-anchor="middle" font-weight="normal" font-style="normal" fill="#333" stroke="#333" stroke-width="0.2">2</text>
<line x1="98.90" y1="672.60" x2="98.90" y2="675.90" stroke="#000" stroke-width="1.3"/>
<text x="98.90" y="686.60" font-size="8.20" text-anchor="middle" font-weight="normal" font-style="normal" fill="#333" stroke="#333" stroke-width="0.2">3</text>
<line x1="111.90" y1="672.60" x2="111.90" y2="675.90" stroke="#000" stroke-width="1.3"/>
<text x="111.90" y="686.60" font-size="8.20" text-anchor="middle" font-weight="normal" font-style="normal" fill="#333" stroke="#333" stroke-width="0.2">4</text>
<line x1="124.90" y1="672.60" x2="124.90" y2="675.90" stroke="#000" stroke-width="1.3"/>
<text x="124.90" y="686.60" font-size="8.20" text-anchor="middle" font-weight="normal" font-style="normal" fill="#333" stroke="#333" stroke-width="0.2">5</text>
<line x1="137.90" y1="672.60" x2="137.90" y2="675.90" stroke="#000" stroke-width="1.3"/>
<text x="137.90" y="686.60" font-size="8.20" text-anchor="middle" font-weight="normal" font-style="normal" fill="#333" stroke="#333" stroke-width="0.2">6</text>
<line x1="150.90" y1="672.60" x2="150.90" y2="675.90" stroke="#000" stroke-width="1.3"/>
<text x="150.90" y="686.60" font-size="8.20" text-anchor="middle" font-weight="normal" font-style="normal" fill="#333" stroke="#333" stroke-width="0.2">7</text>
<line x1="163.90" y1="672.60" x2="163.90" y2="675.90" stroke="#000" stroke-width="1.3"/>
<text x="163.90" y="686.60" font-size="8.20" text-anchor="middle" font-weight="normal" font-style="normal" fill="#333" stroke="#333" stroke-width="0.2">8</text>
<line x1="176.90" y1="672.60" x2="176.90" y2="675.90" stroke="#000" stroke-width="1.3"/>
<text x="176.90" y="686.60" font-size="8.20" text-anchor="middle" font-weight="normal" font-style="normal" fill="#333" stroke="#333" stroke-width="0.2">9</text>
<line x1="189.90" y1="672.60" x2="189.90" y2="675.90" stroke="#000" stroke-width="1.3"/>
<text x="190.20" y="686.60" font-size="8.20" text-anchor="middle" font-weight="normal" font-style="normal" fill="#333" textLength="8.4" lengthAdjust="spacingAndGlyphs" stroke="#333" stroke-width="0.2">10</text>
<line x1="202.90" y1="672.60" x2="202.90" y2="675.90" stroke="#000" stroke-width="1.3"/>
<text x="203.20" y="686.60" font-size="8.20" text-anchor="middle" font-weight="normal" font-style="normal" fill="#333" textLength="8.4" lengthAdjust="spacingAndGlyphs" stroke="#333" stroke-width="0.2">11</text>
<line x1="215.90" y1="672.60" x2="215.90" y2="675.90" stroke="#000" stroke-width="1.3"/>
<text x="216.20" y="686.60" font-size="8.20" text-anchor="middle" font-weight="normal" font-style="normal" fill="#333" textLength="8.4" lengthAdjust="spacingAndGlyphs" stroke="#333" stroke-width="0.2">12</text>
<text x="137.90" y="701.60" font-size="10.30" text-anchor="middle" font-weight="normal" font-style="normal" fill="#1a1a1a" textLength="52.5" lengthAdjust="spacingAndGlyphs" stroke="#1a1a1a" stroke-width="0.2">Time (years)</text>
<line x1="57.80" y1="643.40" x2="70.10" y2="643.40" stroke="#7a1a36" stroke-width="1.5"/>
<line x1="63.95" y1="640.60" x2="63.95" y2="643.40" stroke="#7a1a36" stroke-width="1.1"/>
<text x="73.80" y="645.80" font-size="6.7" fill="#222" stroke="#222" stroke-width="0.2" xml:space="preserve">3+ (n=70)</text>
<line x1="57.80" y1="654.50" x2="70.10" y2="654.50" stroke="#251c3c" stroke-width="1.5"/>
<line x1="63.95" y1="651.70" x2="63.95" y2="654.50" stroke="#251c3c" stroke-width="1.1"/>
<text x="73.80" y="656.90" font-size="6.7" fill="#222" stroke="#222" stroke-width="0.2" xml:space="preserve">0 to 2+ (n=171)</text>
<text x="198.90" y="625.90" font-size="6.7" fill="#1a1a1a" stroke="#1a1a1a" stroke-width="0.2" xml:space="preserve"><tspan font-style="italic">P</tspan> &lt; .0001</text>
<path d="M59.90 562.60 H64.19 V566.54 H64.84 V570.29 H65.75 V572.46 H66.53 V574.93 H67.31 V578.38 H67.96 V581.14 H68.74 V583.80 H69.52 V586.46 H70.56 V588.24 H71.86 V589.52 H73.42 V590.70 H74.85 V591.79 H76.80 V593.17 H79.53 V594.15 H84.60 V595.34 H90.32 V596.52 H116.45 V597.70 H119.44 V600.27 H121.13 V601.35 H134.39 V606.18 H141.15 V614.76 H174.56 V638.13 H187.30" fill="none" stroke="#9a1439" stroke-width="1.55" stroke-linejoin="miter"/>
<path d="M92.40 596.02 v-1.4 M104.59 596.02 v-1.4 M116.96 597.20 v-1.4 M128.92 600.85 v-1.4 M134.98 605.68 v-1.4 M144.75 614.26 v-1.4 M153.30 614.26 v-1.4 M162.62 614.26 v-1.4 M169.03 614.26 v-1.4 M175.88 637.63 v-1.4 M184.58 637.63 v-1.4 M186.91 637.63 v-1.4" fill="none" stroke="#9a1439" stroke-width="1"/>
<path d="M59.90 562.60 H63.80 V565.07 H66.40 V566.05 H68.74 V566.94 H73.42 V568.81 H82.65 V570.00 H91.75 V571.08 H101.11 V572.16 H110.34 V573.15 H119.44 V574.23 H127.76 V577.29 H145.05 V580.15 H209.40" fill="none" stroke="#302650" stroke-width="1.55" stroke-linejoin="miter"/>
<path d="M72.90 566.44 v-1.4 M77.46 568.31 v-1.4 M82.42 568.31 v-1.4 M85.33 569.50 v-1.4 M90.79 569.50 v-1.4 M93.73 570.58 v-1.4 M98.17 570.58 v-1.4 M100.79 570.58 v-1.4 M105.50 571.66 v-1.4 M108.31 571.66 v-1.4 M112.85 572.65 v-1.4 M117.45 572.65 v-1.4 M122.18 573.73 v-1.4 M125.90 573.73 v-1.4 M130.94 576.79 v-1.4 M136.36 576.79 v-1.4 M139.06 576.79 v-1.4 M143.02 576.79 v-1.4 M148.35 579.65 v-1.4 M152.99 579.65 v-1.4 M156.72 579.65 v-1.4 M160.01 579.65 v-1.4 M165.32 579.65 v-1.4 M167.93 579.65 v-1.4 M172.64 579.65 v-1.4 M177.61 579.65 v-1.4 M180.44 579.65 v-1.4 M183.80 579.65 v-1.4 M187.10 579.65 v-1.4 M191.13 579.65 v-1.4 M194.61 579.65 v-1.4 M199.74 579.65 v-1.4 M204.97 579.65 v-1.4 M208.29 579.65 v-1.4 M209.01 579.65 v-1.4" fill="none" stroke="#302650" stroke-width="1"/>
<text x="265.4" y="548.9" font-size="12.8" font-weight="bold" fill="#000" stroke="#000" stroke-width="0.3">H</text>
<text x="354.80" y="550.25" font-size="10.80" text-anchor="start" font-weight="bold" font-style="normal" fill="#000" textLength="81.4" lengthAdjust="spacingAndGlyphs" stroke="#000" stroke-width="0.15">GC type (n=241)</text>
<text transform="translate(280.60 612.70) rotate(-90)" x="0" y="0" font-size="10.3" text-anchor="middle" fill="#1a1a1a" stroke="#1a1a1a" stroke-width="0.2" textLength="71.0" lengthAdjust="spacingAndGlyphs">Proportion of OS</text>
<line x1="306.20" y1="559.30" x2="306.20" y2="665.30" stroke="#000" stroke-width="1.6"/>
<line x1="302.40" y1="661.20" x2="306.20" y2="661.20" stroke="#000" stroke-width="1.3"/>
<text x="298.40" y="663.90" font-size="7.80" text-anchor="end" font-weight="normal" font-style="normal" fill="#333" textLength="10.8" lengthAdjust="spacingAndGlyphs" stroke="#333" stroke-width="0.2">0.0</text>
<line x1="302.40" y1="641.48" x2="306.20" y2="641.48" stroke="#000" stroke-width="1.3"/>
<text x="298.40" y="644.18" font-size="7.80" text-anchor="end" font-weight="normal" font-style="normal" fill="#333" textLength="10.8" lengthAdjust="spacingAndGlyphs" stroke="#333" stroke-width="0.2">0.2</text>
<line x1="302.40" y1="621.76" x2="306.20" y2="621.76" stroke="#000" stroke-width="1.3"/>
<text x="298.40" y="624.46" font-size="7.80" text-anchor="end" font-weight="normal" font-style="normal" fill="#333" textLength="10.8" lengthAdjust="spacingAndGlyphs" stroke="#333" stroke-width="0.2">0.4</text>
<line x1="302.40" y1="602.04" x2="306.20" y2="602.04" stroke="#000" stroke-width="1.3"/>
<text x="298.40" y="604.74" font-size="7.80" text-anchor="end" font-weight="normal" font-style="normal" fill="#333" textLength="10.8" lengthAdjust="spacingAndGlyphs" stroke="#333" stroke-width="0.2">0.6</text>
<line x1="302.40" y1="582.32" x2="306.20" y2="582.32" stroke="#000" stroke-width="1.3"/>
<text x="298.40" y="585.02" font-size="7.80" text-anchor="end" font-weight="normal" font-style="normal" fill="#333" textLength="10.8" lengthAdjust="spacingAndGlyphs" stroke="#333" stroke-width="0.2">0.8</text>
<line x1="302.40" y1="562.60" x2="306.20" y2="562.60" stroke="#000" stroke-width="1.3"/>
<text x="298.40" y="565.30" font-size="7.80" text-anchor="end" font-weight="normal" font-style="normal" fill="#333" textLength="10.8" lengthAdjust="spacingAndGlyphs" stroke="#333" stroke-width="0.2">1.0</text>
<line x1="314.30" y1="672.40" x2="476.70" y2="672.40" stroke="#000" stroke-width="1.7"/>
<line x1="316.90" y1="672.60" x2="316.90" y2="675.90" stroke="#000" stroke-width="1.3"/>
<text x="316.90" y="686.60" font-size="8.20" text-anchor="middle" font-weight="normal" font-style="normal" fill="#333" stroke="#333" stroke-width="0.2">0</text>
<line x1="329.90" y1="672.60" x2="329.90" y2="675.90" stroke="#000" stroke-width="1.3"/>
<text x="329.90" y="686.60" font-size="8.20" text-anchor="middle" font-weight="normal" font-style="normal" fill="#333" stroke="#333" stroke-width="0.2">1</text>
<line x1="342.90" y1="672.60" x2="342.90" y2="675.90" stroke="#000" stroke-width="1.3"/>
<text x="342.90" y="686.60" font-size="8.20" text-anchor="middle" font-weight="normal" font-style="normal" fill="#333" stroke="#333" stroke-width="0.2">2</text>
<line x1="355.90" y1="672.60" x2="355.90" y2="675.90" stroke="#000" stroke-width="1.3"/>
<text x="355.90" y="686.60" font-size="8.20" text-anchor="middle" font-weight="normal" font-style="normal" fill="#333" stroke="#333" stroke-width="0.2">3</text>
<line x1="368.90" y1="672.60" x2="368.90" y2="675.90" stroke="#000" stroke-width="1.3"/>
<text x="368.90" y="686.60" font-size="8.20" text-anchor="middle" font-weight="normal" font-style="normal" fill="#333" stroke="#333" stroke-width="0.2">4</text>
<line x1="381.90" y1="672.60" x2="381.90" y2="675.90" stroke="#000" stroke-width="1.3"/>
<text x="381.90" y="686.60" font-size="8.20" text-anchor="middle" font-weight="normal" font-style="normal" fill="#333" stroke="#333" stroke-width="0.2">5</text>
<line x1="394.90" y1="672.60" x2="394.90" y2="675.90" stroke="#000" stroke-width="1.3"/>
<text x="394.90" y="686.60" font-size="8.20" text-anchor="middle" font-weight="normal" font-style="normal" fill="#333" stroke="#333" stroke-width="0.2">6</text>
<line x1="407.90" y1="672.60" x2="407.90" y2="675.90" stroke="#000" stroke-width="1.3"/>
<text x="407.90" y="686.60" font-size="8.20" text-anchor="middle" font-weight="normal" font-style="normal" fill="#333" stroke="#333" stroke-width="0.2">7</text>
<line x1="420.90" y1="672.60" x2="420.90" y2="675.90" stroke="#000" stroke-width="1.3"/>
<text x="420.90" y="686.60" font-size="8.20" text-anchor="middle" font-weight="normal" font-style="normal" fill="#333" stroke="#333" stroke-width="0.2">8</text>
<line x1="433.90" y1="672.60" x2="433.90" y2="675.90" stroke="#000" stroke-width="1.3"/>
<text x="433.90" y="686.60" font-size="8.20" text-anchor="middle" font-weight="normal" font-style="normal" fill="#333" stroke="#333" stroke-width="0.2">9</text>
<line x1="446.90" y1="672.60" x2="446.90" y2="675.90" stroke="#000" stroke-width="1.3"/>
<text x="447.20" y="686.60" font-size="8.20" text-anchor="middle" font-weight="normal" font-style="normal" fill="#333" textLength="8.4" lengthAdjust="spacingAndGlyphs" stroke="#333" stroke-width="0.2">10</text>
<line x1="459.90" y1="672.60" x2="459.90" y2="675.90" stroke="#000" stroke-width="1.3"/>
<text x="460.20" y="686.60" font-size="8.20" text-anchor="middle" font-weight="normal" font-style="normal" fill="#333" textLength="8.4" lengthAdjust="spacingAndGlyphs" stroke="#333" stroke-width="0.2">11</text>
<line x1="472.90" y1="672.60" x2="472.90" y2="675.90" stroke="#000" stroke-width="1.3"/>
<text x="473.20" y="686.60" font-size="8.20" text-anchor="middle" font-weight="normal" font-style="normal" fill="#333" textLength="8.4" lengthAdjust="spacingAndGlyphs" stroke="#333" stroke-width="0.2">12</text>
<text x="394.90" y="701.60" font-size="10.30" text-anchor="middle" font-weight="normal" font-style="normal" fill="#1a1a1a" textLength="52.5" lengthAdjust="spacingAndGlyphs" stroke="#1a1a1a" stroke-width="0.2">Time (years)</text>
<line x1="323.50" y1="643.50" x2="335.80" y2="643.50" stroke="#7a1a36" stroke-width="1.5"/>
<line x1="329.65" y1="640.70" x2="329.65" y2="643.50" stroke="#7a1a36" stroke-width="1.1"/>
<text x="339.30" y="645.90" font-size="6.7" fill="#222" stroke="#222" stroke-width="0.2" xml:space="preserve">3+ (n=70)</text>
<line x1="323.50" y1="654.70" x2="335.80" y2="654.70" stroke="#251c3c" stroke-width="1.5"/>
<line x1="329.65" y1="651.90" x2="329.65" y2="654.70" stroke="#251c3c" stroke-width="1.1"/>
<text x="339.30" y="657.10" font-size="6.7" fill="#222" stroke="#222" stroke-width="0.2" xml:space="preserve">0 to 2+ (n=171)</text>
<text x="455.50" y="623.50" font-size="6.7" fill="#1a1a1a" stroke="#1a1a1a" stroke-width="0.2" xml:space="preserve"><tspan font-style="italic">P</tspan> = .0002</text>
<path d="M316.90 562.60 H322.10 V564.08 H325.48 V566.54 H328.60 V568.81 H330.16 V573.45 H331.72 V577.19 H333.80 V578.87 H336.27 V580.35 H339.39 V583.40 H342.51 V585.67 H346.28 V588.04 H377.74 V589.81 H395.03 V594.64 H415.05 V606.18 H431.04 V633.49 H444.43" fill="none" stroke="#9a1439" stroke-width="1.55" stroke-linejoin="miter"/>
<path d="M349.40 587.54 v-1.4 M356.43 587.54 v-1.4 M366.90 587.54 v-1.4 M376.84 587.54 v-1.4 M382.85 589.31 v-1.4 M392.97 589.31 v-1.4 M401.63 594.14 v-1.4 M406.57 594.14 v-1.4 M417.20 605.68 v-1.4 M423.47 605.68 v-1.4 M430.06 605.68 v-1.4 M437.39 632.99 v-1.4 M444.04 632.99 v-1.4" fill="none" stroke="#9a1439" stroke-width="1"/>
<path d="M316.90 562.60 H322.10 V564.08 H325.48 V566.54 H329.38 V568.52 H344.85 V570.00 H357.07 V571.47 H375.40 V571.97 H387.75 V574.43 H403.09 V578.28 H466.14" fill="none" stroke="#302650" stroke-width="1.55" stroke-linejoin="miter"/>
<path d="M329.90 568.02 v-1.4 M334.57 568.02 v-1.4 M337.54 568.02 v-1.4 M340.52 568.02 v-1.4 M344.74 568.02 v-1.4 M347.26 569.50 v-1.4 M352.02 569.50 v-1.4 M356.74 569.50 v-1.4 M359.21 570.97 v-1.4 M363.69 570.97 v-1.4 M367.59 570.97 v-1.4 M371.92 570.97 v-1.4 M377.23 571.47 v-1.4 M382.65 571.47 v-1.4 M386.27 571.47 v-1.4 M391.24 573.93 v-1.4 M396.03 573.93 v-1.4 M401.41 573.93 v-1.4 M403.84 577.78 v-1.4 M409.10 577.78 v-1.4 M412.14 577.78 v-1.4 M414.88 577.78 v-1.4 M419.08 577.78 v-1.4 M424.04 577.78 v-1.4 M429.37 577.78 v-1.4 M432.84 577.78 v-1.4 M437.76 577.78 v-1.4 M440.20 577.78 v-1.4 M445.56 577.78 v-1.4 M448.82 577.78 v-1.4 M452.85 577.78 v-1.4 M455.58 577.78 v-1.4 M458.06 577.78 v-1.4 M460.42 577.78 v-1.4 M464.63 577.78 v-1.4 M465.75 577.78 v-1.4" fill="none" stroke="#302650" stroke-width="1"/>
<text x="11.6" y="729.3" font-size="12.8" font-weight="bold" fill="#000" stroke="#000" stroke-width="0.3">I</text>
<text x="81.20" y="732.75" font-size="10.80" text-anchor="start" font-weight="bold" font-style="normal" fill="#000" textLength="105.3" lengthAdjust="spacingAndGlyphs" stroke="#000" stroke-width="0.15">non-GC type (n=215)</text>
<text transform="translate(23.60 793.90) rotate(-90)" x="0" y="0" font-size="10.3" text-anchor="middle" fill="#1a1a1a" stroke="#1a1a1a" stroke-width="0.2" textLength="75.0" lengthAdjust="spacingAndGlyphs">Proportion of PFS</text>
<line x1="49.20" y1="740.30" x2="49.20" y2="846.70" stroke="#000" stroke-width="1.6"/>
<line x1="45.40" y1="842.60" x2="49.20" y2="842.60" stroke="#000" stroke-width="1.3"/>
<text x="41.40" y="845.30" font-size="7.80" text-anchor="end" font-weight="normal" font-style="normal" fill="#333" textLength="10.8" lengthAdjust="spacingAndGlyphs" stroke="#333" stroke-width="0.2">0.0</text>
<line x1="45.40" y1="822.80" x2="49.20" y2="822.80" stroke="#000" stroke-width="1.3"/>
<text x="41.40" y="825.50" font-size="7.80" text-anchor="end" font-weight="normal" font-style="normal" fill="#333" textLength="10.8" lengthAdjust="spacingAndGlyphs" stroke="#333" stroke-width="0.2">0.2</text>
<line x1="45.40" y1="803.00" x2="49.20" y2="803.00" stroke="#000" stroke-width="1.3"/>
<text x="41.40" y="805.70" font-size="7.80" text-anchor="end" font-weight="normal" font-style="normal" fill="#333" textLength="10.8" lengthAdjust="spacingAndGlyphs" stroke="#333" stroke-width="0.2">0.4</text>
<line x1="45.40" y1="783.20" x2="49.20" y2="783.20" stroke="#000" stroke-width="1.3"/>
<text x="41.40" y="785.90" font-size="7.80" text-anchor="end" font-weight="normal" font-style="normal" fill="#333" textLength="10.8" lengthAdjust="spacingAndGlyphs" stroke="#333" stroke-width="0.2">0.6</text>
<line x1="45.40" y1="763.40" x2="49.20" y2="763.40" stroke="#000" stroke-width="1.3"/>
<text x="41.40" y="766.10" font-size="7.80" text-anchor="end" font-weight="normal" font-style="normal" fill="#333" textLength="10.8" lengthAdjust="spacingAndGlyphs" stroke="#333" stroke-width="0.2">0.8</text>
<line x1="45.40" y1="743.60" x2="49.20" y2="743.60" stroke="#000" stroke-width="1.3"/>
<text x="41.40" y="746.30" font-size="7.80" text-anchor="end" font-weight="normal" font-style="normal" fill="#333" textLength="10.8" lengthAdjust="spacingAndGlyphs" stroke="#333" stroke-width="0.2">1.0</text>
<line x1="57.30" y1="853.60" x2="219.70" y2="853.60" stroke="#000" stroke-width="1.7"/>
<line x1="59.90" y1="853.80" x2="59.90" y2="857.10" stroke="#000" stroke-width="1.3"/>
<text x="59.90" y="867.80" font-size="8.20" text-anchor="middle" font-weight="normal" font-style="normal" fill="#333" stroke="#333" stroke-width="0.2">0</text>
<line x1="72.90" y1="853.80" x2="72.90" y2="857.10" stroke="#000" stroke-width="1.3"/>
<text x="72.90" y="867.80" font-size="8.20" text-anchor="middle" font-weight="normal" font-style="normal" fill="#333" stroke="#333" stroke-width="0.2">1</text>
<line x1="85.90" y1="853.80" x2="85.90" y2="857.10" stroke="#000" stroke-width="1.3"/>
<text x="85.90" y="867.80" font-size="8.20" text-anchor="middle" font-weight="normal" font-style="normal" fill="#333" stroke="#333" stroke-width="0.2">2</text>
<line x1="98.90" y1="853.80" x2="98.90" y2="857.10" stroke="#000" stroke-width="1.3"/>
<text x="98.90" y="867.80" font-size="8.20" text-anchor="middle" font-weight="normal" font-style="normal" fill="#333" stroke="#333" stroke-width="0.2">3</text>
<line x1="111.90" y1="853.80" x2="111.90" y2="857.10" stroke="#000" stroke-width="1.3"/>
<text x="111.90" y="867.80" font-size="8.20" text-anchor="middle" font-weight="normal" font-style="normal" fill="#333" stroke="#333" stroke-width="0.2">4</text>
<line x1="124.90" y1="853.80" x2="124.90" y2="857.10" stroke="#000" stroke-width="1.3"/>
<text x="124.90" y="867.80" font-size="8.20" text-anchor="middle" font-weight="normal" font-style="normal" fill="#333" stroke="#333" stroke-width="0.2">5</text>
<line x1="137.90" y1="853.80" x2="137.90" y2="857.10" stroke="#000" stroke-width="1.3"/>
<text x="137.90" y="867.80" font-size="8.20" text-anchor="middle" font-weight="normal" font-style="normal" fill="#333" stroke="#333" stroke-width="0.2">6</text>
<line x1="150.90" y1="853.80" x2="150.90" y2="857.10" stroke="#000" stroke-width="1.3"/>
<text x="150.90" y="867.80" font-size="8.20" text-anchor="middle" font-weight="normal" font-style="normal" fill="#333" stroke="#333" stroke-width="0.2">7</text>
<line x1="163.90" y1="853.80" x2="163.90" y2="857.10" stroke="#000" stroke-width="1.3"/>
<text x="163.90" y="867.80" font-size="8.20" text-anchor="middle" font-weight="normal" font-style="normal" fill="#333" stroke="#333" stroke-width="0.2">8</text>
<line x1="176.90" y1="853.80" x2="176.90" y2="857.10" stroke="#000" stroke-width="1.3"/>
<text x="176.90" y="867.80" font-size="8.20" text-anchor="middle" font-weight="normal" font-style="normal" fill="#333" stroke="#333" stroke-width="0.2">9</text>
<line x1="189.90" y1="853.80" x2="189.90" y2="857.10" stroke="#000" stroke-width="1.3"/>
<text x="190.20" y="867.80" font-size="8.20" text-anchor="middle" font-weight="normal" font-style="normal" fill="#333" textLength="8.4" lengthAdjust="spacingAndGlyphs" stroke="#333" stroke-width="0.2">10</text>
<line x1="202.90" y1="853.80" x2="202.90" y2="857.10" stroke="#000" stroke-width="1.3"/>
<text x="203.20" y="867.80" font-size="8.20" text-anchor="middle" font-weight="normal" font-style="normal" fill="#333" textLength="8.4" lengthAdjust="spacingAndGlyphs" stroke="#333" stroke-width="0.2">11</text>
<line x1="215.90" y1="853.80" x2="215.90" y2="857.10" stroke="#000" stroke-width="1.3"/>
<text x="216.20" y="867.80" font-size="8.20" text-anchor="middle" font-weight="normal" font-style="normal" fill="#333" textLength="8.4" lengthAdjust="spacingAndGlyphs" stroke="#333" stroke-width="0.2">12</text>
<text x="137.90" y="882.80" font-size="10.30" text-anchor="middle" font-weight="normal" font-style="normal" fill="#1a1a1a" textLength="52.5" lengthAdjust="spacingAndGlyphs" stroke="#1a1a1a" stroke-width="0.2">Time (years)</text>
<line x1="57.80" y1="824.40" x2="70.10" y2="824.40" stroke="#7a1a36" stroke-width="1.5"/>
<line x1="63.95" y1="821.60" x2="63.95" y2="824.40" stroke="#7a1a36" stroke-width="1.1"/>
<text x="73.80" y="826.80" font-size="6.7" fill="#222" stroke="#222" stroke-width="0.2" xml:space="preserve">3+ (n=111)</text>
<line x1="57.80" y1="835.20" x2="70.10" y2="835.20" stroke="#251c3c" stroke-width="1.5"/>
<line x1="63.95" y1="832.40" x2="63.95" y2="835.20" stroke="#251c3c" stroke-width="1.1"/>
<text x="73.80" y="837.60" font-size="6.7" fill="#222" stroke="#222" stroke-width="0.2" xml:space="preserve">0 to 2+ (n=104)</text>
<text x="201.40" y="815.70" font-size="6.7" fill="#1a1a1a" stroke="#1a1a1a" stroke-width="0.2" xml:space="preserve"><tspan font-style="italic">P</tspan> = .0005</text>
<path d="M59.90 743.60 H64.45 V746.08 H65.49 V748.55 H66.53 V751.82 H67.70 V755.98 H68.74 V759.54 H69.91 V762.41 H71.08 V765.68 H72.25 V769.34 H73.42 V772.61 H74.85 V774.29 H76.54 V775.68 H78.75 V777.75 H81.09 V779.54 H83.04 V781.52 H84.86 V783.40 H87.20 V786.86 H96.56 V787.95 H98.25 V790.13 H99.55 V791.81 H101.24 V794.09 H102.54 V795.67 H105.66 V797.16 H121.13 V799.44 H196.53" fill="none" stroke="#9a1439" stroke-width="1.55" stroke-linejoin="miter"/>
<path d="M92.40 786.36 v-1.4 M98.94 789.63 v-1.4 M105.74 796.66 v-1.4 M113.73 796.66 v-1.4 M118.16 796.66 v-1.4 M121.97 798.94 v-1.4 M129.34 798.94 v-1.4 M134.41 798.94 v-1.4 M139.66 798.94 v-1.4 M146.98 798.94 v-1.4 M151.35 798.94 v-1.4 M159.12 798.94 v-1.4 M164.93 798.94 v-1.4 M168.77 798.94 v-1.4 M176.58 798.94 v-1.4 M182.77 798.94 v-1.4 M186.65 798.94 v-1.4 M194.08 798.94 v-1.4 M196.14 798.94 v-1.4" fill="none" stroke="#9a1439" stroke-width="1"/>
<path d="M59.90 743.60 H64.45 V746.08 H65.49 V748.06 H66.53 V750.33 H67.70 V753.50 H68.74 V755.68 H71.08 V757.16 H76.54 V758.85 H77.97 V763.40 H84.21 V765.38 H88.76 V767.16 H90.32 V767.95 H111.77 V768.85 H116.45 V770.33 H121.13 V771.82 H126.72 V773.99 H202.64" fill="none" stroke="#302650" stroke-width="1.55" stroke-linejoin="miter"/>
<path d="M79.40 762.90 v-1.4 M83.44 762.90 v-1.4 M87.56 764.88 v-1.4 M93.87 767.45 v-1.4 M98.21 767.45 v-1.4 M102.34 767.45 v-1.4 M108.02 767.45 v-1.4 M113.49 768.35 v-1.4 M117.99 769.83 v-1.4 M123.34 771.32 v-1.4 M130.79 773.49 v-1.4 M134.91 773.49 v-1.4 M139.30 773.49 v-1.4 M142.94 773.49 v-1.4 M147.57 773.49 v-1.4 M151.53 773.49 v-1.4 M159.65 773.49 v-1.4 M164.63 773.49 v-1.4 M172.77 773.49 v-1.4 M176.88 773.49 v-1.4 M184.62 773.49 v-1.4 M190.50 773.49 v-1.4 M197.25 773.49 v-1.4 M202.25 773.49 v-1.4" fill="none" stroke="#302650" stroke-width="1"/>
<text x="266.0" y="730.8" font-size="12.8" font-weight="bold" fill="#000" stroke="#000" stroke-width="0.3">J</text>
<text x="339.90" y="732.75" font-size="10.80" text-anchor="start" font-weight="bold" font-style="normal" fill="#000" textLength="105.8" lengthAdjust="spacingAndGlyphs" stroke="#000" stroke-width="0.15">non-GC type (n=215)</text>
<text transform="translate(280.60 793.90) rotate(-90)" x="0" y="0" font-size="10.3" text-anchor="middle" fill="#1a1a1a" stroke="#1a1a1a" stroke-width="0.2" textLength="71.0" lengthAdjust="spacingAndGlyphs">Proportion of OS</text>
<line x1="306.20" y1="740.30" x2="306.20" y2="846.70" stroke="#000" stroke-width="1.6"/>
<line x1="302.40" y1="842.60" x2="306.20" y2="842.60" stroke="#000" stroke-width="1.3"/>
<text x="298.40" y="845.30" font-size="7.80" text-anchor="end" font-weight="normal" font-style="normal" fill="#333" textLength="10.8" lengthAdjust="spacingAndGlyphs" stroke="#333" stroke-width="0.2">0.0</text>
<line x1="302.40" y1="822.80" x2="306.20" y2="822.80" stroke="#000" stroke-width="1.3"/>
<text x="298.40" y="825.50" font-size="7.80" text-anchor="end" font-weight="normal" font-style="normal" fill="#333" textLength="10.8" lengthAdjust="spacingAndGlyphs" stroke="#333" stroke-width="0.2">0.2</text>
<line x1="302.40" y1="803.00" x2="306.20" y2="803.00" stroke="#000" stroke-width="1.3"/>
<text x="298.40" y="805.70" font-size="7.80" text-anchor="end" font-weight="normal" font-style="normal" fill="#333" textLength="10.8" lengthAdjust="spacingAndGlyphs" stroke="#333" stroke-width="0.2">0.4</text>
<line x1="302.40" y1="783.20" x2="306.20" y2="783.20" stroke="#000" stroke-width="1.3"/>
<text x="298.40" y="785.90" font-size="7.80" text-anchor="end" font-weight="normal" font-style="normal" fill="#333" textLength="10.8" lengthAdjust="spacingAndGlyphs" stroke="#333" stroke-width="0.2">0.6</text>
<line x1="302.40" y1="763.40" x2="306.20" y2="763.40" stroke="#000" stroke-width="1.3"/>
<text x="298.40" y="766.10" font-size="7.80" text-anchor="end" font-weight="normal" font-style="normal" fill="#333" textLength="10.8" lengthAdjust="spacingAndGlyphs" stroke="#333" stroke-width="0.2">0.8</text>
<line x1="302.40" y1="743.60" x2="306.20" y2="743.60" stroke="#000" stroke-width="1.3"/>
<text x="298.40" y="746.30" font-size="7.80" text-anchor="end" font-weight="normal" font-style="normal" fill="#333" textLength="10.8" lengthAdjust="spacingAndGlyphs" stroke="#333" stroke-width="0.2">1.0</text>
<line x1="314.30" y1="853.60" x2="476.70" y2="853.60" stroke="#000" stroke-width="1.7"/>
<line x1="316.90" y1="853.80" x2="316.90" y2="857.10" stroke="#000" stroke-width="1.3"/>
<text x="316.90" y="867.80" font-size="8.20" text-anchor="middle" font-weight="normal" font-style="normal" fill="#333" stroke="#333" stroke-width="0.2">0</text>
<line x1="329.90" y1="853.80" x2="329.90" y2="857.10" stroke="#000" stroke-width="1.3"/>
<text x="329.90" y="867.80" font-size="8.20" text-anchor="middle" font-weight="normal" font-style="normal" fill="#333" stroke="#333" stroke-width="0.2">1</text>
<line x1="342.90" y1="853.80" x2="342.90" y2="857.10" stroke="#000" stroke-width="1.3"/>
<text x="342.90" y="867.80" font-size="8.20" text-anchor="middle" font-weight="normal" font-style="normal" fill="#333" stroke="#333" stroke-width="0.2">2</text>
<line x1="355.90" y1="853.80" x2="355.90" y2="857.10" stroke="#000" stroke-width="1.3"/>
<text x="355.90" y="867.80" font-size="8.20" text-anchor="middle" font-weight="normal" font-style="normal" fill="#333" stroke="#333" stroke-width="0.2">3</text>
<line x1="368.90" y1="853.80" x2="368.90" y2="857.10" stroke="#000" stroke-width="1.3"/>
<text x="368.90" y="867.80" font-size="8.20" text-anchor="middle" font-weight="normal" font-style="normal" fill="#333" stroke="#333" stroke-width="0.2">4</text>
<line x1="381.90" y1="853.80" x2="381.90" y2="857.10" stroke="#000" stroke-width="1.3"/>
<text x="381.90" y="867.80" font-size="8.20" text-anchor="middle" font-weight="normal" font-style="normal" fill="#333" stroke="#333" stroke-width="0.2">5</text>
<line x1="394.90" y1="853.80" x2="394.90" y2="857.10" stroke="#000" stroke-width="1.3"/>
<text x="394.90" y="867.80" font-size="8.20" text-anchor="middle" font-weight="normal" font-style="normal" fill="#333" stroke="#333" stroke-width="0.2">6</text>
<line x1="407.90" y1="853.80" x2="407.90" y2="857.10" stroke="#000" stroke-width="1.3"/>
<text x="407.90" y="867.80" font-size="8.20" text-anchor="middle" font-weight="normal" font-style="normal" fill="#333" stroke="#333" stroke-width="0.2">7</text>
<line x1="420.90" y1="853.80" x2="420.90" y2="857.10" stroke="#000" stroke-width="1.3"/>
<text x="420.90" y="867.80" font-size="8.20" text-anchor="middle" font-weight="normal" font-style="normal" fill="#333" stroke="#333" stroke-width="0.2">8</text>
<line x1="433.90" y1="853.80" x2="433.90" y2="857.10" stroke="#000" stroke-width="1.3"/>
<text x="433.90" y="867.80" font-size="8.20" text-anchor="middle" font-weight="normal" font-style="normal" fill="#333" stroke="#333" stroke-width="0.2">9</text>
<line x1="446.90" y1="853.80" x2="446.90" y2="857.10" stroke="#000" stroke-width="1.3"/>
<text x="447.20" y="867.80" font-size="8.20" text-anchor="middle" font-weight="normal" font-style="normal" fill="#333" textLength="8.4" lengthAdjust="spacingAndGlyphs" stroke="#333" stroke-width="0.2">10</text>
<line x1="459.90" y1="853.80" x2="459.90" y2="857.10" stroke="#000" stroke-width="1.3"/>
<text x="460.20" y="867.80" font-size="8.20" text-anchor="middle" font-weight="normal" font-style="normal" fill="#333" textLength="8.4" lengthAdjust="spacingAndGlyphs" stroke="#333" stroke-width="0.2">11</text>
<line x1="472.90" y1="853.80" x2="472.90" y2="857.10" stroke="#000" stroke-width="1.3"/>
<text x="473.20" y="867.80" font-size="8.20" text-anchor="middle" font-weight="normal" font-style="normal" fill="#333" textLength="8.4" lengthAdjust="spacingAndGlyphs" stroke="#333" stroke-width="0.2">12</text>
<text x="394.90" y="882.80" font-size="10.30" text-anchor="middle" font-weight="normal" font-style="normal" fill="#1a1a1a" textLength="52.5" lengthAdjust="spacingAndGlyphs" stroke="#1a1a1a" stroke-width="0.2">Time (years)</text>
<line x1="323.50" y1="824.40" x2="335.80" y2="824.40" stroke="#7a1a36" stroke-width="1.5"/>
<line x1="329.65" y1="821.60" x2="329.65" y2="824.40" stroke="#7a1a36" stroke-width="1.1"/>
<text x="339.30" y="826.80" font-size="6.7" fill="#222" stroke="#222" stroke-width="0.2" xml:space="preserve">3+ (n=111)</text>
<line x1="323.50" y1="835.60" x2="335.80" y2="835.60" stroke="#251c3c" stroke-width="1.5"/>
<line x1="329.65" y1="832.80" x2="329.65" y2="835.60" stroke="#251c3c" stroke-width="1.1"/>
<text x="339.30" y="838.00" font-size="6.7" fill="#222" stroke="#222" stroke-width="0.2" xml:space="preserve">0 to 2+ (n=104)</text>
<text x="460.50" y="810.90" font-size="6.7" fill="#1a1a1a" stroke="#1a1a1a" stroke-width="0.2" xml:space="preserve"><tspan font-style="italic">P</tspan> = .0003</text>
<path d="M316.90 743.60 H322.10 V745.09 H323.40 V748.55 H324.83 V753.40 H329.38 V757.16 H331.85 V759.44 H334.06 V761.82 H339.39 V764.88 H340.95 V767.36 H342.51 V769.54 H347.84 V771.82 H349.40 V773.80 H351.74 V775.68 H358.63 V778.05 H361.10 V779.74 H363.18 V781.12 H367.86 V783.40 H380.21 V784.19 H383.20 V786.47 H387.75 V788.84 H413.75 V793.10 H453.53" fill="none" stroke="#9a1439" stroke-width="1.55" stroke-linejoin="miter"/>
<path d="M349.40 773.30 v-1.4 M355.48 775.18 v-1.4 M360.60 777.55 v-1.4 M368.07 782.90 v-1.4 M372.93 782.90 v-1.4 M378.83 782.90 v-1.4 M383.95 785.97 v-1.4 M389.40 788.34 v-1.4 M397.47 788.34 v-1.4 M401.46 788.34 v-1.4 M407.05 788.34 v-1.4 M411.62 788.34 v-1.4 M416.76 792.60 v-1.4 M424.95 792.60 v-1.4 M430.00 792.60 v-1.4 M436.35 792.60 v-1.4 M441.83 792.60 v-1.4 M448.75 792.60 v-1.4 M453.14 792.60 v-1.4" fill="none" stroke="#9a1439" stroke-width="1"/>
<path d="M316.90 743.60 H323.40 V744.59 H324.83 V747.96 H329.38 V749.54 H332.50 V752.61 H338.61 V754.19 H341.73 V756.47 H350.96 V758.35 H375.53 V759.44 H385.41 V761.92 H423.76 V768.05 H459.25" fill="none" stroke="#302650" stroke-width="1.55" stroke-linejoin="miter"/>
<path d="M336.40 752.11 v-1.4 M342.43 755.97 v-1.4 M347.30 755.97 v-1.4 M350.95 755.97 v-1.4 M357.52 757.85 v-1.4 M362.01 757.85 v-1.4 M366.72 757.85 v-1.4 M372.09 757.85 v-1.4 M378.60 758.94 v-1.4 M386.74 761.42 v-1.4 M392.41 761.42 v-1.4 M400.57 761.42 v-1.4 M408.73 761.42 v-1.4 M413.37 761.42 v-1.4 M417.22 761.42 v-1.4 M421.48 761.42 v-1.4 M428.93 767.55 v-1.4 M435.25 767.55 v-1.4 M443.05 767.55 v-1.4 M451.11 767.55 v-1.4 M457.68 767.55 v-1.4 M458.86 767.55 v-1.4" fill="none" stroke="#302650" stroke-width="1"/>
</svg>
<svg class="bd" width="520" height="895" viewBox="0 0 520 895">
<rect x="1" y="1" width="1" height="893" fill="#777"/>
<rect x="1" y="1" width="517" height="1" fill="#777"/>
<rect x="518" y="1" width="1" height="893" fill="#333"/>
<rect x="1" y="893" width="518" height="1" fill="#333"/>
<rect x="0" y="0" width="1" height="895" fill="#000"/>
<rect x="0" y="0" width="520" height="1" fill="#000"/>
<rect x="519" y="0" width="1" height="895" fill="#000"/>
<rect x="0" y="894" width="520" height="1" fill="#000"/>
</svg>
</body></html>
